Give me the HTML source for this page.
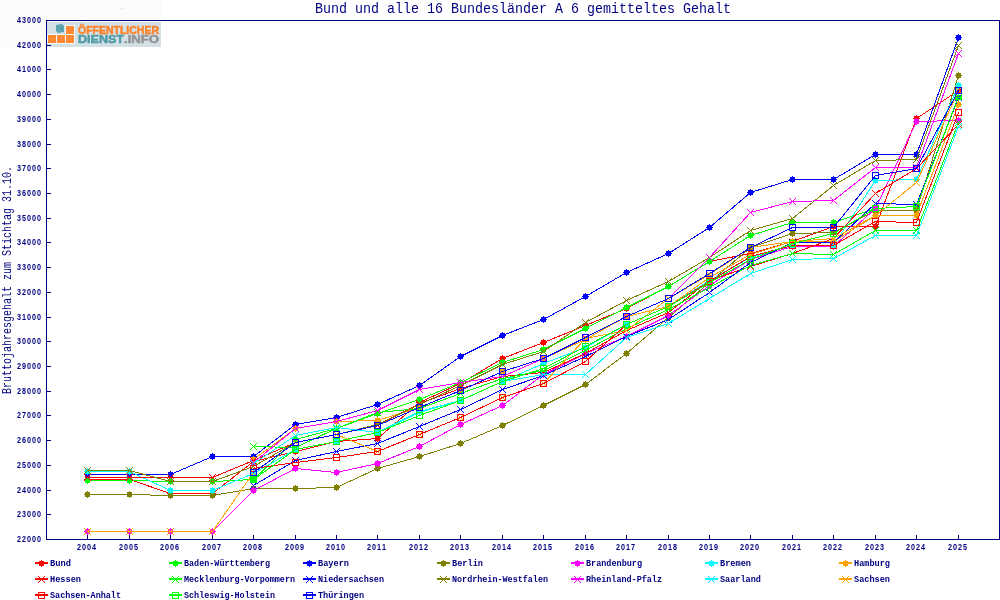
<!DOCTYPE html><html><head><meta charset="utf-8"><style>html,body{margin:0;padding:0;background:#fff;width:1000px;height:600px;overflow:hidden}svg{display:block;will-change:transform}text{font-family:"Liberation Mono",monospace;fill:#000080}</style></head><body>
<svg width="1000" height="600" viewBox="0 0 1000 600">
<rect x="0" y="0" width="1000" height="600" fill="#ffffff"/>
<rect x="0" y="0" width="161" height="47" fill="#fbfcf9"/>
<rect x="47" y="22" width="114" height="25" fill="#d3e0e6"/>
<rect x="47" y="34" width="28" height="10" fill="#f4f8fa"/><rect x="65" y="25" width="10" height="10" fill="#f4f8fa"/>
<rect x="121" y="8" width="2" height="1" fill="#e2e2e2"/>
<rect x="48" y="35" width="8" height="8" fill="#ff8833"/>
<rect x="57" y="35" width="8" height="8" fill="#ff8833"/>
<rect x="66" y="35" width="8" height="8" fill="#ff8833"/>
<rect x="66" y="26" width="8" height="8" fill="#ff8833"/>
<path d="M56 25 L62 24 L64 26 L64 32 L58 33 L56 31 Z" fill="#5ba3ad"/>
<g style="font-family:'Liberation Sans';font-weight:bold" font-size="10.5" stroke-width="0.45" lengthAdjust="spacingAndGlyphs">
<text x="78" y="34" textLength="81" lengthAdjust="spacingAndGlyphs" style="font-family:'Liberation Sans';font-weight:bold;fill:#ff8126;stroke:#ff8126">ÖFFENTLICHER</text>
<text x="78" y="43" textLength="46" lengthAdjust="spacingAndGlyphs" style="font-family:'Liberation Sans';font-weight:bold;fill:#4e9aa6;stroke:#4e9aa6">DIENST</text>
<text x="124" y="43" textLength="35" lengthAdjust="spacingAndGlyphs" style="font-family:'Liberation Sans';font-weight:bold;fill:#939393;stroke:#939393">.INFO</text>
</g>
<g shape-rendering="crispEdges" stroke="#000080" stroke-width="1" fill="none">
<rect x="46.5" y="20.5" width="953" height="519"/>
<line x1="46" y1="539.5" x2="51" y2="539.5"/>
<line x1="46" y1="514.5" x2="51" y2="514.5"/>
<line x1="46" y1="490.5" x2="51" y2="490.5"/>
<line x1="46" y1="465.5" x2="51" y2="465.5"/>
<line x1="46" y1="440.5" x2="51" y2="440.5"/>
<line x1="46" y1="415.5" x2="51" y2="415.5"/>
<line x1="46" y1="391.5" x2="51" y2="391.5"/>
<line x1="46" y1="366.5" x2="51" y2="366.5"/>
<line x1="46" y1="341.5" x2="51" y2="341.5"/>
<line x1="46" y1="317.5" x2="51" y2="317.5"/>
<line x1="46" y1="292.5" x2="51" y2="292.5"/>
<line x1="46" y1="267.5" x2="51" y2="267.5"/>
<line x1="46" y1="242.5" x2="51" y2="242.5"/>
<line x1="46" y1="218.5" x2="51" y2="218.5"/>
<line x1="46" y1="193.5" x2="51" y2="193.5"/>
<line x1="46" y1="168.5" x2="51" y2="168.5"/>
<line x1="46" y1="144.5" x2="51" y2="144.5"/>
<line x1="46" y1="119.5" x2="51" y2="119.5"/>
<line x1="46" y1="94.5" x2="51" y2="94.5"/>
<line x1="46" y1="69.5" x2="51" y2="69.5"/>
<line x1="46" y1="45.5" x2="51" y2="45.5"/>
<line x1="46" y1="20.5" x2="51" y2="20.5"/>
<line x1="87.5" y1="535" x2="87.5" y2="540"/>
<line x1="129.5" y1="535" x2="129.5" y2="540"/>
<line x1="170.5" y1="535" x2="170.5" y2="540"/>
<line x1="212.5" y1="535" x2="212.5" y2="540"/>
<line x1="253.5" y1="535" x2="253.5" y2="540"/>
<line x1="295.5" y1="535" x2="295.5" y2="540"/>
<line x1="336.5" y1="535" x2="336.5" y2="540"/>
<line x1="377.5" y1="535" x2="377.5" y2="540"/>
<line x1="419.5" y1="535" x2="419.5" y2="540"/>
<line x1="460.5" y1="535" x2="460.5" y2="540"/>
<line x1="502.5" y1="535" x2="502.5" y2="540"/>
<line x1="543.5" y1="535" x2="543.5" y2="540"/>
<line x1="585.5" y1="535" x2="585.5" y2="540"/>
<line x1="626.5" y1="535" x2="626.5" y2="540"/>
<line x1="668.5" y1="535" x2="668.5" y2="540"/>
<line x1="709.5" y1="535" x2="709.5" y2="540"/>
<line x1="750.5" y1="535" x2="750.5" y2="540"/>
<line x1="792.5" y1="535" x2="792.5" y2="540"/>
<line x1="833.5" y1="535" x2="833.5" y2="540"/>
<line x1="875.5" y1="535" x2="875.5" y2="540"/>
<line x1="916.5" y1="535" x2="916.5" y2="540"/>
<line x1="958.5" y1="535" x2="958.5" y2="540"/>
</g>
<text x="20.72 26.82 32.92 39.02 45.11" y="542" transform="scale(0.820,1)" font-size="8.8" style="font-family:'Liberation Sans';font-weight:bold">22000</text>
<text x="20.72 26.82 32.92 39.02 45.11" y="517" transform="scale(0.820,1)" font-size="8.8" style="font-family:'Liberation Sans';font-weight:bold">23000</text>
<text x="20.72 26.82 32.92 39.02 45.11" y="493" transform="scale(0.820,1)" font-size="8.8" style="font-family:'Liberation Sans';font-weight:bold">24000</text>
<text x="20.72 26.82 32.92 39.02 45.11" y="468" transform="scale(0.820,1)" font-size="8.8" style="font-family:'Liberation Sans';font-weight:bold">25000</text>
<text x="20.72 26.82 32.92 39.02 45.11" y="443" transform="scale(0.820,1)" font-size="8.8" style="font-family:'Liberation Sans';font-weight:bold">26000</text>
<text x="20.72 26.82 32.92 39.02 45.11" y="418" transform="scale(0.820,1)" font-size="8.8" style="font-family:'Liberation Sans';font-weight:bold">27000</text>
<text x="20.72 26.82 32.92 39.02 45.11" y="394" transform="scale(0.820,1)" font-size="8.8" style="font-family:'Liberation Sans';font-weight:bold">28000</text>
<text x="20.72 26.82 32.92 39.02 45.11" y="369" transform="scale(0.820,1)" font-size="8.8" style="font-family:'Liberation Sans';font-weight:bold">29000</text>
<text x="20.72 26.82 32.92 39.02 45.11" y="344" transform="scale(0.820,1)" font-size="8.8" style="font-family:'Liberation Sans';font-weight:bold">30000</text>
<text x="20.72 26.82 32.92 39.02 45.11" y="320" transform="scale(0.820,1)" font-size="8.8" style="font-family:'Liberation Sans';font-weight:bold">31000</text>
<text x="20.72 26.82 32.92 39.02 45.11" y="295" transform="scale(0.820,1)" font-size="8.8" style="font-family:'Liberation Sans';font-weight:bold">32000</text>
<text x="20.72 26.82 32.92 39.02 45.11" y="270" transform="scale(0.820,1)" font-size="8.8" style="font-family:'Liberation Sans';font-weight:bold">33000</text>
<text x="20.72 26.82 32.92 39.02 45.11" y="245" transform="scale(0.820,1)" font-size="8.8" style="font-family:'Liberation Sans';font-weight:bold">34000</text>
<text x="20.72 26.82 32.92 39.02 45.11" y="221" transform="scale(0.820,1)" font-size="8.8" style="font-family:'Liberation Sans';font-weight:bold">35000</text>
<text x="20.72 26.82 32.92 39.02 45.11" y="196" transform="scale(0.820,1)" font-size="8.8" style="font-family:'Liberation Sans';font-weight:bold">36000</text>
<text x="20.72 26.82 32.92 39.02 45.11" y="171" transform="scale(0.820,1)" font-size="8.8" style="font-family:'Liberation Sans';font-weight:bold">37000</text>
<text x="20.72 26.82 32.92 39.02 45.11" y="147" transform="scale(0.820,1)" font-size="8.8" style="font-family:'Liberation Sans';font-weight:bold">38000</text>
<text x="20.72 26.82 32.92 39.02 45.11" y="122" transform="scale(0.820,1)" font-size="8.8" style="font-family:'Liberation Sans';font-weight:bold">39000</text>
<text x="20.72 26.82 32.92 39.02 45.11" y="97" transform="scale(0.820,1)" font-size="8.8" style="font-family:'Liberation Sans';font-weight:bold">40000</text>
<text x="20.72 26.82 32.92 39.02 45.11" y="72" transform="scale(0.820,1)" font-size="8.8" style="font-family:'Liberation Sans';font-weight:bold">41000</text>
<text x="20.72 26.82 32.92 39.02 45.11" y="48" transform="scale(0.820,1)" font-size="8.8" style="font-family:'Liberation Sans';font-weight:bold">42000</text>
<text x="20.72 26.82 32.92 39.02 45.11" y="23" transform="scale(0.820,1)" font-size="8.8" style="font-family:'Liberation Sans';font-weight:bold">43000</text>
<text x="93.89 99.99 106.09 112.19" y="550" transform="scale(0.820,1)" font-size="8.8" style="font-family:'Liberation Sans';font-weight:bold">2004</text>
<text x="145.11 151.21 157.31 163.41" y="550" transform="scale(0.820,1)" font-size="8.8" style="font-family:'Liberation Sans';font-weight:bold">2005</text>
<text x="195.11 201.21 207.31 213.41" y="550" transform="scale(0.820,1)" font-size="8.8" style="font-family:'Liberation Sans';font-weight:bold">2006</text>
<text x="246.33 252.43 258.53 264.63" y="550" transform="scale(0.820,1)" font-size="8.8" style="font-family:'Liberation Sans';font-weight:bold">2007</text>
<text x="296.33 302.43 308.53 314.63" y="550" transform="scale(0.820,1)" font-size="8.8" style="font-family:'Liberation Sans';font-weight:bold">2008</text>
<text x="347.55 353.65 359.75 365.85" y="550" transform="scale(0.820,1)" font-size="8.8" style="font-family:'Liberation Sans';font-weight:bold">2009</text>
<text x="397.55 403.65 409.75 415.85" y="550" transform="scale(0.820,1)" font-size="8.8" style="font-family:'Liberation Sans';font-weight:bold">2010</text>
<text x="447.55 453.65 459.75 465.85" y="550" transform="scale(0.820,1)" font-size="8.8" style="font-family:'Liberation Sans';font-weight:bold">2011</text>
<text x="498.77 504.87 510.97 517.07" y="550" transform="scale(0.820,1)" font-size="8.8" style="font-family:'Liberation Sans';font-weight:bold">2012</text>
<text x="548.77 554.87 560.97 567.07" y="550" transform="scale(0.820,1)" font-size="8.8" style="font-family:'Liberation Sans';font-weight:bold">2013</text>
<text x="599.99 606.09 612.19 618.28" y="550" transform="scale(0.820,1)" font-size="8.8" style="font-family:'Liberation Sans';font-weight:bold">2014</text>
<text x="649.99 656.09 662.19 668.28" y="550" transform="scale(0.820,1)" font-size="8.8" style="font-family:'Liberation Sans';font-weight:bold">2015</text>
<text x="701.21 707.31 713.41 719.50" y="550" transform="scale(0.820,1)" font-size="8.8" style="font-family:'Liberation Sans';font-weight:bold">2016</text>
<text x="751.21 757.31 763.41 769.50" y="550" transform="scale(0.820,1)" font-size="8.8" style="font-family:'Liberation Sans';font-weight:bold">2017</text>
<text x="802.43 808.53 814.63 820.72" y="550" transform="scale(0.820,1)" font-size="8.8" style="font-family:'Liberation Sans';font-weight:bold">2018</text>
<text x="852.43 858.53 864.63 870.72" y="550" transform="scale(0.820,1)" font-size="8.8" style="font-family:'Liberation Sans';font-weight:bold">2019</text>
<text x="902.43 908.53 914.63 920.72" y="550" transform="scale(0.820,1)" font-size="8.8" style="font-family:'Liberation Sans';font-weight:bold">2020</text>
<text x="953.65 959.75 965.85 971.94" y="550" transform="scale(0.820,1)" font-size="8.8" style="font-family:'Liberation Sans';font-weight:bold">2021</text>
<text x="1003.65 1009.75 1015.85 1021.94" y="550" transform="scale(0.820,1)" font-size="8.8" style="font-family:'Liberation Sans';font-weight:bold">2022</text>
<text x="1054.87 1060.97 1067.07 1073.16" y="550" transform="scale(0.820,1)" font-size="8.8" style="font-family:'Liberation Sans';font-weight:bold">2023</text>
<text x="1104.87 1110.97 1117.07 1123.16" y="550" transform="scale(0.820,1)" font-size="8.8" style="font-family:'Liberation Sans';font-weight:bold">2024</text>
<text x="1156.09 1162.19 1168.28 1174.38" y="550" transform="scale(0.820,1)" font-size="8.8" style="font-family:'Liberation Sans';font-weight:bold">2025</text>
<text x="315" y="13" font-size="15" textLength="416" lengthAdjust="spacingAndGlyphs">Bund und alle 16 Bundesländer A 6 gemitteltes Gehalt</text>
<text transform="translate(11,394) rotate(-90)" x="0" y="0" font-size="12" textLength="228" lengthAdjust="spacingAndGlyphs">Bruttojahresgehalt zum Stichtag 31.10.</text>
<g shape-rendering="crispEdges">
<polyline fill="none" stroke="#ff0000" stroke-width="1" points="87.5,479.5 129.5,479.5 170.5,493.5 212.5,493.5 253.5,461.5 295.5,451.5 336.5,441.5 377.5,438.5 419.5,402.5 460.5,383.5 502.5,358.5 543.5,342.5 585.5,325.5 626.5,308.5 668.5,286.5 709.5,261.5 750.5,253.5 792.5,241.5 833.5,226.5 875.5,226.5 916.5,118.5 958.5,90.5"/>
<path d="M85 477h5v5h-5zM87 476h1v1h-1zM87 482h1v1h-1zM84 479h1v1h-1zM90 479h1v1h-1z" fill="#ff0000"/>
<path d="M127 477h5v5h-5zM129 476h1v1h-1zM129 482h1v1h-1zM126 479h1v1h-1zM132 479h1v1h-1z" fill="#ff0000"/>
<path d="M168 491h5v5h-5zM170 490h1v1h-1zM170 496h1v1h-1zM167 493h1v1h-1zM173 493h1v1h-1z" fill="#ff0000"/>
<path d="M210 491h5v5h-5zM212 490h1v1h-1zM212 496h1v1h-1zM209 493h1v1h-1zM215 493h1v1h-1z" fill="#ff0000"/>
<path d="M251 459h5v5h-5zM253 458h1v1h-1zM253 464h1v1h-1zM250 461h1v1h-1zM256 461h1v1h-1z" fill="#ff0000"/>
<path d="M293 449h5v5h-5zM295 448h1v1h-1zM295 454h1v1h-1zM292 451h1v1h-1zM298 451h1v1h-1z" fill="#ff0000"/>
<path d="M334 439h5v5h-5zM336 438h1v1h-1zM336 444h1v1h-1zM333 441h1v1h-1zM339 441h1v1h-1z" fill="#ff0000"/>
<path d="M375 436h5v5h-5zM377 435h1v1h-1zM377 441h1v1h-1zM374 438h1v1h-1zM380 438h1v1h-1z" fill="#ff0000"/>
<path d="M417 400h5v5h-5zM419 399h1v1h-1zM419 405h1v1h-1zM416 402h1v1h-1zM422 402h1v1h-1z" fill="#ff0000"/>
<path d="M458 381h5v5h-5zM460 380h1v1h-1zM460 386h1v1h-1zM457 383h1v1h-1zM463 383h1v1h-1z" fill="#ff0000"/>
<path d="M500 356h5v5h-5zM502 355h1v1h-1zM502 361h1v1h-1zM499 358h1v1h-1zM505 358h1v1h-1z" fill="#ff0000"/>
<path d="M541 340h5v5h-5zM543 339h1v1h-1zM543 345h1v1h-1zM540 342h1v1h-1zM546 342h1v1h-1z" fill="#ff0000"/>
<path d="M583 323h5v5h-5zM585 322h1v1h-1zM585 328h1v1h-1zM582 325h1v1h-1zM588 325h1v1h-1z" fill="#ff0000"/>
<path d="M624 306h5v5h-5zM626 305h1v1h-1zM626 311h1v1h-1zM623 308h1v1h-1zM629 308h1v1h-1z" fill="#ff0000"/>
<path d="M666 284h5v5h-5zM668 283h1v1h-1zM668 289h1v1h-1zM665 286h1v1h-1zM671 286h1v1h-1z" fill="#ff0000"/>
<path d="M707 259h5v5h-5zM709 258h1v1h-1zM709 264h1v1h-1zM706 261h1v1h-1zM712 261h1v1h-1z" fill="#ff0000"/>
<path d="M748 251h5v5h-5zM750 250h1v1h-1zM750 256h1v1h-1zM747 253h1v1h-1zM753 253h1v1h-1z" fill="#ff0000"/>
<path d="M790 239h5v5h-5zM792 238h1v1h-1zM792 244h1v1h-1zM789 241h1v1h-1zM795 241h1v1h-1z" fill="#ff0000"/>
<path d="M831 224h5v5h-5zM833 223h1v1h-1zM833 229h1v1h-1zM830 226h1v1h-1zM836 226h1v1h-1z" fill="#ff0000"/>
<path d="M873 224h5v5h-5zM875 223h1v1h-1zM875 229h1v1h-1zM872 226h1v1h-1zM878 226h1v1h-1z" fill="#ff0000"/>
<path d="M914 116h5v5h-5zM916 115h1v1h-1zM916 121h1v1h-1zM913 118h1v1h-1zM919 118h1v1h-1z" fill="#ff0000"/>
<path d="M956 88h5v5h-5zM958 87h1v1h-1zM958 93h1v1h-1zM955 90h1v1h-1zM961 90h1v1h-1z" fill="#ff0000"/>
<polyline fill="none" stroke="#00ff00" stroke-width="1" points="87.5,480.5 129.5,480.5 170.5,481.5 212.5,481.5 253.5,479.5 295.5,439.5 336.5,428.5 377.5,413.5 419.5,399.5 460.5,382.5 502.5,362.5 543.5,349.5 585.5,328.5 626.5,307.5 668.5,286.5 709.5,261.5 750.5,235.5 792.5,222.5 833.5,222.5 875.5,208.5 916.5,206.5 958.5,97.5"/>
<path d="M85 478h5v5h-5zM87 477h1v1h-1zM87 483h1v1h-1zM84 480h1v1h-1zM90 480h1v1h-1z" fill="#00ff00"/>
<path d="M127 478h5v5h-5zM129 477h1v1h-1zM129 483h1v1h-1zM126 480h1v1h-1zM132 480h1v1h-1z" fill="#00ff00"/>
<path d="M168 479h5v5h-5zM170 478h1v1h-1zM170 484h1v1h-1zM167 481h1v1h-1zM173 481h1v1h-1z" fill="#00ff00"/>
<path d="M210 479h5v5h-5zM212 478h1v1h-1zM212 484h1v1h-1zM209 481h1v1h-1zM215 481h1v1h-1z" fill="#00ff00"/>
<path d="M251 477h5v5h-5zM253 476h1v1h-1zM253 482h1v1h-1zM250 479h1v1h-1zM256 479h1v1h-1z" fill="#00ff00"/>
<path d="M293 437h5v5h-5zM295 436h1v1h-1zM295 442h1v1h-1zM292 439h1v1h-1zM298 439h1v1h-1z" fill="#00ff00"/>
<path d="M334 426h5v5h-5zM336 425h1v1h-1zM336 431h1v1h-1zM333 428h1v1h-1zM339 428h1v1h-1z" fill="#00ff00"/>
<path d="M375 411h5v5h-5zM377 410h1v1h-1zM377 416h1v1h-1zM374 413h1v1h-1zM380 413h1v1h-1z" fill="#00ff00"/>
<path d="M417 397h5v5h-5zM419 396h1v1h-1zM419 402h1v1h-1zM416 399h1v1h-1zM422 399h1v1h-1z" fill="#00ff00"/>
<path d="M458 380h5v5h-5zM460 379h1v1h-1zM460 385h1v1h-1zM457 382h1v1h-1zM463 382h1v1h-1z" fill="#00ff00"/>
<path d="M500 360h5v5h-5zM502 359h1v1h-1zM502 365h1v1h-1zM499 362h1v1h-1zM505 362h1v1h-1z" fill="#00ff00"/>
<path d="M541 347h5v5h-5zM543 346h1v1h-1zM543 352h1v1h-1zM540 349h1v1h-1zM546 349h1v1h-1z" fill="#00ff00"/>
<path d="M583 326h5v5h-5zM585 325h1v1h-1zM585 331h1v1h-1zM582 328h1v1h-1zM588 328h1v1h-1z" fill="#00ff00"/>
<path d="M624 305h5v5h-5zM626 304h1v1h-1zM626 310h1v1h-1zM623 307h1v1h-1zM629 307h1v1h-1z" fill="#00ff00"/>
<path d="M666 284h5v5h-5zM668 283h1v1h-1zM668 289h1v1h-1zM665 286h1v1h-1zM671 286h1v1h-1z" fill="#00ff00"/>
<path d="M707 259h5v5h-5zM709 258h1v1h-1zM709 264h1v1h-1zM706 261h1v1h-1zM712 261h1v1h-1z" fill="#00ff00"/>
<path d="M748 233h5v5h-5zM750 232h1v1h-1zM750 238h1v1h-1zM747 235h1v1h-1zM753 235h1v1h-1z" fill="#00ff00"/>
<path d="M790 220h5v5h-5zM792 219h1v1h-1zM792 225h1v1h-1zM789 222h1v1h-1zM795 222h1v1h-1z" fill="#00ff00"/>
<path d="M831 220h5v5h-5zM833 219h1v1h-1zM833 225h1v1h-1zM830 222h1v1h-1zM836 222h1v1h-1z" fill="#00ff00"/>
<path d="M873 206h5v5h-5zM875 205h1v1h-1zM875 211h1v1h-1zM872 208h1v1h-1zM878 208h1v1h-1z" fill="#00ff00"/>
<path d="M914 204h5v5h-5zM916 203h1v1h-1zM916 209h1v1h-1zM913 206h1v1h-1zM919 206h1v1h-1z" fill="#00ff00"/>
<path d="M956 95h5v5h-5zM958 94h1v1h-1zM958 100h1v1h-1zM955 97h1v1h-1zM961 97h1v1h-1z" fill="#00ff00"/>
<polyline fill="none" stroke="#0000ff" stroke-width="1" points="87.5,474.5 129.5,474.5 170.5,474.5 212.5,456.5 253.5,456.5 295.5,424.5 336.5,417.5 377.5,404.5 419.5,385.5 460.5,356.5 502.5,335.5 543.5,319.5 585.5,296.5 626.5,272.5 668.5,253.5 709.5,227.5 750.5,192.5 792.5,179.5 833.5,179.5 875.5,154.5 916.5,154.5 958.5,37.5"/>
<path d="M85 472h5v5h-5zM87 471h1v1h-1zM87 477h1v1h-1zM84 474h1v1h-1zM90 474h1v1h-1z" fill="#0000ff"/>
<path d="M127 472h5v5h-5zM129 471h1v1h-1zM129 477h1v1h-1zM126 474h1v1h-1zM132 474h1v1h-1z" fill="#0000ff"/>
<path d="M168 472h5v5h-5zM170 471h1v1h-1zM170 477h1v1h-1zM167 474h1v1h-1zM173 474h1v1h-1z" fill="#0000ff"/>
<path d="M210 454h5v5h-5zM212 453h1v1h-1zM212 459h1v1h-1zM209 456h1v1h-1zM215 456h1v1h-1z" fill="#0000ff"/>
<path d="M251 454h5v5h-5zM253 453h1v1h-1zM253 459h1v1h-1zM250 456h1v1h-1zM256 456h1v1h-1z" fill="#0000ff"/>
<path d="M293 422h5v5h-5zM295 421h1v1h-1zM295 427h1v1h-1zM292 424h1v1h-1zM298 424h1v1h-1z" fill="#0000ff"/>
<path d="M334 415h5v5h-5zM336 414h1v1h-1zM336 420h1v1h-1zM333 417h1v1h-1zM339 417h1v1h-1z" fill="#0000ff"/>
<path d="M375 402h5v5h-5zM377 401h1v1h-1zM377 407h1v1h-1zM374 404h1v1h-1zM380 404h1v1h-1z" fill="#0000ff"/>
<path d="M417 383h5v5h-5zM419 382h1v1h-1zM419 388h1v1h-1zM416 385h1v1h-1zM422 385h1v1h-1z" fill="#0000ff"/>
<path d="M458 354h5v5h-5zM460 353h1v1h-1zM460 359h1v1h-1zM457 356h1v1h-1zM463 356h1v1h-1z" fill="#0000ff"/>
<path d="M500 333h5v5h-5zM502 332h1v1h-1zM502 338h1v1h-1zM499 335h1v1h-1zM505 335h1v1h-1z" fill="#0000ff"/>
<path d="M541 317h5v5h-5zM543 316h1v1h-1zM543 322h1v1h-1zM540 319h1v1h-1zM546 319h1v1h-1z" fill="#0000ff"/>
<path d="M583 294h5v5h-5zM585 293h1v1h-1zM585 299h1v1h-1zM582 296h1v1h-1zM588 296h1v1h-1z" fill="#0000ff"/>
<path d="M624 270h5v5h-5zM626 269h1v1h-1zM626 275h1v1h-1zM623 272h1v1h-1zM629 272h1v1h-1z" fill="#0000ff"/>
<path d="M666 251h5v5h-5zM668 250h1v1h-1zM668 256h1v1h-1zM665 253h1v1h-1zM671 253h1v1h-1z" fill="#0000ff"/>
<path d="M707 225h5v5h-5zM709 224h1v1h-1zM709 230h1v1h-1zM706 227h1v1h-1zM712 227h1v1h-1z" fill="#0000ff"/>
<path d="M748 190h5v5h-5zM750 189h1v1h-1zM750 195h1v1h-1zM747 192h1v1h-1zM753 192h1v1h-1z" fill="#0000ff"/>
<path d="M790 177h5v5h-5zM792 176h1v1h-1zM792 182h1v1h-1zM789 179h1v1h-1zM795 179h1v1h-1z" fill="#0000ff"/>
<path d="M831 177h5v5h-5zM833 176h1v1h-1zM833 182h1v1h-1zM830 179h1v1h-1zM836 179h1v1h-1z" fill="#0000ff"/>
<path d="M873 152h5v5h-5zM875 151h1v1h-1zM875 157h1v1h-1zM872 154h1v1h-1zM878 154h1v1h-1z" fill="#0000ff"/>
<path d="M914 152h5v5h-5zM916 151h1v1h-1zM916 157h1v1h-1zM913 154h1v1h-1zM919 154h1v1h-1z" fill="#0000ff"/>
<path d="M956 35h5v5h-5zM958 34h1v1h-1zM958 40h1v1h-1zM955 37h1v1h-1zM961 37h1v1h-1z" fill="#0000ff"/>
<polyline fill="none" stroke="#808000" stroke-width="1" points="87.5,494.5 129.5,494.5 170.5,495.5 212.5,495.5 253.5,488.5 295.5,488.5 336.5,487.5 377.5,468.5 419.5,456.5 460.5,443.5 502.5,425.5 543.5,405.5 585.5,384.5 626.5,353.5 668.5,317.5 709.5,282.5 750.5,247.5 792.5,233.5 833.5,232.5 875.5,210.5 916.5,210.5 958.5,75.5"/>
<path d="M85 492h5v5h-5zM87 491h1v1h-1zM87 497h1v1h-1zM84 494h1v1h-1zM90 494h1v1h-1z" fill="#808000"/>
<path d="M127 492h5v5h-5zM129 491h1v1h-1zM129 497h1v1h-1zM126 494h1v1h-1zM132 494h1v1h-1z" fill="#808000"/>
<path d="M168 493h5v5h-5zM170 492h1v1h-1zM170 498h1v1h-1zM167 495h1v1h-1zM173 495h1v1h-1z" fill="#808000"/>
<path d="M210 493h5v5h-5zM212 492h1v1h-1zM212 498h1v1h-1zM209 495h1v1h-1zM215 495h1v1h-1z" fill="#808000"/>
<path d="M251 486h5v5h-5zM253 485h1v1h-1zM253 491h1v1h-1zM250 488h1v1h-1zM256 488h1v1h-1z" fill="#808000"/>
<path d="M293 486h5v5h-5zM295 485h1v1h-1zM295 491h1v1h-1zM292 488h1v1h-1zM298 488h1v1h-1z" fill="#808000"/>
<path d="M334 485h5v5h-5zM336 484h1v1h-1zM336 490h1v1h-1zM333 487h1v1h-1zM339 487h1v1h-1z" fill="#808000"/>
<path d="M375 466h5v5h-5zM377 465h1v1h-1zM377 471h1v1h-1zM374 468h1v1h-1zM380 468h1v1h-1z" fill="#808000"/>
<path d="M417 454h5v5h-5zM419 453h1v1h-1zM419 459h1v1h-1zM416 456h1v1h-1zM422 456h1v1h-1z" fill="#808000"/>
<path d="M458 441h5v5h-5zM460 440h1v1h-1zM460 446h1v1h-1zM457 443h1v1h-1zM463 443h1v1h-1z" fill="#808000"/>
<path d="M500 423h5v5h-5zM502 422h1v1h-1zM502 428h1v1h-1zM499 425h1v1h-1zM505 425h1v1h-1z" fill="#808000"/>
<path d="M541 403h5v5h-5zM543 402h1v1h-1zM543 408h1v1h-1zM540 405h1v1h-1zM546 405h1v1h-1z" fill="#808000"/>
<path d="M583 382h5v5h-5zM585 381h1v1h-1zM585 387h1v1h-1zM582 384h1v1h-1zM588 384h1v1h-1z" fill="#808000"/>
<path d="M624 351h5v5h-5zM626 350h1v1h-1zM626 356h1v1h-1zM623 353h1v1h-1zM629 353h1v1h-1z" fill="#808000"/>
<path d="M666 315h5v5h-5zM668 314h1v1h-1zM668 320h1v1h-1zM665 317h1v1h-1zM671 317h1v1h-1z" fill="#808000"/>
<path d="M707 280h5v5h-5zM709 279h1v1h-1zM709 285h1v1h-1zM706 282h1v1h-1zM712 282h1v1h-1z" fill="#808000"/>
<path d="M748 245h5v5h-5zM750 244h1v1h-1zM750 250h1v1h-1zM747 247h1v1h-1zM753 247h1v1h-1z" fill="#808000"/>
<path d="M790 231h5v5h-5zM792 230h1v1h-1zM792 236h1v1h-1zM789 233h1v1h-1zM795 233h1v1h-1z" fill="#808000"/>
<path d="M831 230h5v5h-5zM833 229h1v1h-1zM833 235h1v1h-1zM830 232h1v1h-1zM836 232h1v1h-1z" fill="#808000"/>
<path d="M873 208h5v5h-5zM875 207h1v1h-1zM875 213h1v1h-1zM872 210h1v1h-1zM878 210h1v1h-1z" fill="#808000"/>
<path d="M914 208h5v5h-5zM916 207h1v1h-1zM916 213h1v1h-1zM913 210h1v1h-1zM919 210h1v1h-1z" fill="#808000"/>
<path d="M956 73h5v5h-5zM958 72h1v1h-1zM958 78h1v1h-1zM955 75h1v1h-1zM961 75h1v1h-1z" fill="#808000"/>
<polyline fill="none" stroke="#ff00ff" stroke-width="1" points="87.5,531.5 129.5,531.5 170.5,531.5 212.5,531.5 253.5,490.5 295.5,468.5 336.5,472.5 377.5,463.5 419.5,446.5 460.5,424.5 502.5,405.5 543.5,374.5 585.5,353.5 626.5,336.5 668.5,315.5 709.5,285.5 750.5,259.5 792.5,246.5 833.5,246.5 875.5,208.5 916.5,121.5 958.5,120.5"/>
<path d="M85 529h5v5h-5zM87 528h1v1h-1zM87 534h1v1h-1zM84 531h1v1h-1zM90 531h1v1h-1z" fill="#ff00ff"/>
<path d="M127 529h5v5h-5zM129 528h1v1h-1zM129 534h1v1h-1zM126 531h1v1h-1zM132 531h1v1h-1z" fill="#ff00ff"/>
<path d="M168 529h5v5h-5zM170 528h1v1h-1zM170 534h1v1h-1zM167 531h1v1h-1zM173 531h1v1h-1z" fill="#ff00ff"/>
<path d="M210 529h5v5h-5zM212 528h1v1h-1zM212 534h1v1h-1zM209 531h1v1h-1zM215 531h1v1h-1z" fill="#ff00ff"/>
<path d="M251 488h5v5h-5zM253 487h1v1h-1zM253 493h1v1h-1zM250 490h1v1h-1zM256 490h1v1h-1z" fill="#ff00ff"/>
<path d="M293 466h5v5h-5zM295 465h1v1h-1zM295 471h1v1h-1zM292 468h1v1h-1zM298 468h1v1h-1z" fill="#ff00ff"/>
<path d="M334 470h5v5h-5zM336 469h1v1h-1zM336 475h1v1h-1zM333 472h1v1h-1zM339 472h1v1h-1z" fill="#ff00ff"/>
<path d="M375 461h5v5h-5zM377 460h1v1h-1zM377 466h1v1h-1zM374 463h1v1h-1zM380 463h1v1h-1z" fill="#ff00ff"/>
<path d="M417 444h5v5h-5zM419 443h1v1h-1zM419 449h1v1h-1zM416 446h1v1h-1zM422 446h1v1h-1z" fill="#ff00ff"/>
<path d="M458 422h5v5h-5zM460 421h1v1h-1zM460 427h1v1h-1zM457 424h1v1h-1zM463 424h1v1h-1z" fill="#ff00ff"/>
<path d="M500 403h5v5h-5zM502 402h1v1h-1zM502 408h1v1h-1zM499 405h1v1h-1zM505 405h1v1h-1z" fill="#ff00ff"/>
<path d="M541 372h5v5h-5zM543 371h1v1h-1zM543 377h1v1h-1zM540 374h1v1h-1zM546 374h1v1h-1z" fill="#ff00ff"/>
<path d="M583 351h5v5h-5zM585 350h1v1h-1zM585 356h1v1h-1zM582 353h1v1h-1zM588 353h1v1h-1z" fill="#ff00ff"/>
<path d="M624 334h5v5h-5zM626 333h1v1h-1zM626 339h1v1h-1zM623 336h1v1h-1zM629 336h1v1h-1z" fill="#ff00ff"/>
<path d="M666 313h5v5h-5zM668 312h1v1h-1zM668 318h1v1h-1zM665 315h1v1h-1zM671 315h1v1h-1z" fill="#ff00ff"/>
<path d="M707 283h5v5h-5zM709 282h1v1h-1zM709 288h1v1h-1zM706 285h1v1h-1zM712 285h1v1h-1z" fill="#ff00ff"/>
<path d="M748 257h5v5h-5zM750 256h1v1h-1zM750 262h1v1h-1zM747 259h1v1h-1zM753 259h1v1h-1z" fill="#ff00ff"/>
<path d="M790 244h5v5h-5zM792 243h1v1h-1zM792 249h1v1h-1zM789 246h1v1h-1zM795 246h1v1h-1z" fill="#ff00ff"/>
<path d="M831 244h5v5h-5zM833 243h1v1h-1zM833 249h1v1h-1zM830 246h1v1h-1zM836 246h1v1h-1z" fill="#ff00ff"/>
<path d="M873 206h5v5h-5zM875 205h1v1h-1zM875 211h1v1h-1zM872 208h1v1h-1zM878 208h1v1h-1z" fill="#ff00ff"/>
<path d="M914 119h5v5h-5zM916 118h1v1h-1zM916 124h1v1h-1zM913 121h1v1h-1zM919 121h1v1h-1z" fill="#ff00ff"/>
<path d="M956 118h5v5h-5zM958 117h1v1h-1zM958 123h1v1h-1zM955 120h1v1h-1zM961 120h1v1h-1z" fill="#ff00ff"/>
<polyline fill="none" stroke="#00ffff" stroke-width="1" points="87.5,471.5 129.5,471.5 170.5,490.5 212.5,490.5 253.5,473.5 295.5,449.5 336.5,441.5 377.5,432.5 419.5,411.5 460.5,400.5 502.5,381.5 543.5,363.5 585.5,347.5 626.5,324.5 668.5,306.5 709.5,280.5 750.5,257.5 792.5,245.5 833.5,245.5 875.5,180.5 916.5,179.5 958.5,85.5"/>
<path d="M85 469h5v5h-5zM87 468h1v1h-1zM87 474h1v1h-1zM84 471h1v1h-1zM90 471h1v1h-1z" fill="#00ffff"/>
<path d="M127 469h5v5h-5zM129 468h1v1h-1zM129 474h1v1h-1zM126 471h1v1h-1zM132 471h1v1h-1z" fill="#00ffff"/>
<path d="M168 488h5v5h-5zM170 487h1v1h-1zM170 493h1v1h-1zM167 490h1v1h-1zM173 490h1v1h-1z" fill="#00ffff"/>
<path d="M210 488h5v5h-5zM212 487h1v1h-1zM212 493h1v1h-1zM209 490h1v1h-1zM215 490h1v1h-1z" fill="#00ffff"/>
<path d="M251 471h5v5h-5zM253 470h1v1h-1zM253 476h1v1h-1zM250 473h1v1h-1zM256 473h1v1h-1z" fill="#00ffff"/>
<path d="M293 447h5v5h-5zM295 446h1v1h-1zM295 452h1v1h-1zM292 449h1v1h-1zM298 449h1v1h-1z" fill="#00ffff"/>
<path d="M334 439h5v5h-5zM336 438h1v1h-1zM336 444h1v1h-1zM333 441h1v1h-1zM339 441h1v1h-1z" fill="#00ffff"/>
<path d="M375 430h5v5h-5zM377 429h1v1h-1zM377 435h1v1h-1zM374 432h1v1h-1zM380 432h1v1h-1z" fill="#00ffff"/>
<path d="M417 409h5v5h-5zM419 408h1v1h-1zM419 414h1v1h-1zM416 411h1v1h-1zM422 411h1v1h-1z" fill="#00ffff"/>
<path d="M458 398h5v5h-5zM460 397h1v1h-1zM460 403h1v1h-1zM457 400h1v1h-1zM463 400h1v1h-1z" fill="#00ffff"/>
<path d="M500 379h5v5h-5zM502 378h1v1h-1zM502 384h1v1h-1zM499 381h1v1h-1zM505 381h1v1h-1z" fill="#00ffff"/>
<path d="M541 361h5v5h-5zM543 360h1v1h-1zM543 366h1v1h-1zM540 363h1v1h-1zM546 363h1v1h-1z" fill="#00ffff"/>
<path d="M583 345h5v5h-5zM585 344h1v1h-1zM585 350h1v1h-1zM582 347h1v1h-1zM588 347h1v1h-1z" fill="#00ffff"/>
<path d="M624 322h5v5h-5zM626 321h1v1h-1zM626 327h1v1h-1zM623 324h1v1h-1zM629 324h1v1h-1z" fill="#00ffff"/>
<path d="M666 304h5v5h-5zM668 303h1v1h-1zM668 309h1v1h-1zM665 306h1v1h-1zM671 306h1v1h-1z" fill="#00ffff"/>
<path d="M707 278h5v5h-5zM709 277h1v1h-1zM709 283h1v1h-1zM706 280h1v1h-1zM712 280h1v1h-1z" fill="#00ffff"/>
<path d="M748 255h5v5h-5zM750 254h1v1h-1zM750 260h1v1h-1zM747 257h1v1h-1zM753 257h1v1h-1z" fill="#00ffff"/>
<path d="M790 243h5v5h-5zM792 242h1v1h-1zM792 248h1v1h-1zM789 245h1v1h-1zM795 245h1v1h-1z" fill="#00ffff"/>
<path d="M831 243h5v5h-5zM833 242h1v1h-1zM833 248h1v1h-1zM830 245h1v1h-1zM836 245h1v1h-1z" fill="#00ffff"/>
<path d="M873 178h5v5h-5zM875 177h1v1h-1zM875 183h1v1h-1zM872 180h1v1h-1zM878 180h1v1h-1z" fill="#00ffff"/>
<path d="M914 177h5v5h-5zM916 176h1v1h-1zM916 182h1v1h-1zM913 179h1v1h-1zM919 179h1v1h-1z" fill="#00ffff"/>
<path d="M956 83h5v5h-5zM958 82h1v1h-1zM958 88h1v1h-1zM955 85h1v1h-1zM961 85h1v1h-1z" fill="#00ffff"/>
<polyline fill="none" stroke="#ffa500" stroke-width="1" points="253.5,459.5 295.5,428.5 336.5,421.5 377.5,420.5 419.5,407.5 460.5,390.5 502.5,371.5 543.5,358.5 585.5,339.5 626.5,316.5 668.5,306.5 709.5,277.5 750.5,254.5 792.5,241.5 833.5,241.5 875.5,215.5 916.5,215.5 958.5,104.5"/>
<path d="M251 457h5v5h-5zM253 456h1v1h-1zM253 462h1v1h-1zM250 459h1v1h-1zM256 459h1v1h-1z" fill="#ffa500"/>
<path d="M293 426h5v5h-5zM295 425h1v1h-1zM295 431h1v1h-1zM292 428h1v1h-1zM298 428h1v1h-1z" fill="#ffa500"/>
<path d="M334 419h5v5h-5zM336 418h1v1h-1zM336 424h1v1h-1zM333 421h1v1h-1zM339 421h1v1h-1z" fill="#ffa500"/>
<path d="M375 418h5v5h-5zM377 417h1v1h-1zM377 423h1v1h-1zM374 420h1v1h-1zM380 420h1v1h-1z" fill="#ffa500"/>
<path d="M417 405h5v5h-5zM419 404h1v1h-1zM419 410h1v1h-1zM416 407h1v1h-1zM422 407h1v1h-1z" fill="#ffa500"/>
<path d="M458 388h5v5h-5zM460 387h1v1h-1zM460 393h1v1h-1zM457 390h1v1h-1zM463 390h1v1h-1z" fill="#ffa500"/>
<path d="M500 369h5v5h-5zM502 368h1v1h-1zM502 374h1v1h-1zM499 371h1v1h-1zM505 371h1v1h-1z" fill="#ffa500"/>
<path d="M541 356h5v5h-5zM543 355h1v1h-1zM543 361h1v1h-1zM540 358h1v1h-1zM546 358h1v1h-1z" fill="#ffa500"/>
<path d="M583 337h5v5h-5zM585 336h1v1h-1zM585 342h1v1h-1zM582 339h1v1h-1zM588 339h1v1h-1z" fill="#ffa500"/>
<path d="M624 314h5v5h-5zM626 313h1v1h-1zM626 319h1v1h-1zM623 316h1v1h-1zM629 316h1v1h-1z" fill="#ffa500"/>
<path d="M666 304h5v5h-5zM668 303h1v1h-1zM668 309h1v1h-1zM665 306h1v1h-1zM671 306h1v1h-1z" fill="#ffa500"/>
<path d="M707 275h5v5h-5zM709 274h1v1h-1zM709 280h1v1h-1zM706 277h1v1h-1zM712 277h1v1h-1z" fill="#ffa500"/>
<path d="M748 252h5v5h-5zM750 251h1v1h-1zM750 257h1v1h-1zM747 254h1v1h-1zM753 254h1v1h-1z" fill="#ffa500"/>
<path d="M790 239h5v5h-5zM792 238h1v1h-1zM792 244h1v1h-1zM789 241h1v1h-1zM795 241h1v1h-1z" fill="#ffa500"/>
<path d="M831 239h5v5h-5zM833 238h1v1h-1zM833 244h1v1h-1zM830 241h1v1h-1zM836 241h1v1h-1z" fill="#ffa500"/>
<path d="M873 213h5v5h-5zM875 212h1v1h-1zM875 218h1v1h-1zM872 215h1v1h-1zM878 215h1v1h-1z" fill="#ffa500"/>
<path d="M914 213h5v5h-5zM916 212h1v1h-1zM916 218h1v1h-1zM913 215h1v1h-1zM919 215h1v1h-1z" fill="#ffa500"/>
<path d="M956 102h5v5h-5zM958 101h1v1h-1zM958 107h1v1h-1zM955 104h1v1h-1zM961 104h1v1h-1z" fill="#ffa500"/>
<polyline fill="none" stroke="#ff0000" stroke-width="1" points="87.5,477.5 129.5,477.5 170.5,477.5 212.5,477.5 253.5,460.5 295.5,442.5 336.5,434.5 377.5,425.5 419.5,403.5 460.5,388.5 502.5,376.5 543.5,372.5 585.5,353.5 626.5,330.5 668.5,312.5 709.5,280.5 750.5,266.5 792.5,253.5 833.5,238.5 875.5,193.5 916.5,168.5 958.5,124.5"/>
<path d="M84 474h1v1h-1zM84 480h1v1h-1zM85 475h1v1h-1zM85 479h1v1h-1zM86 476h1v1h-1zM86 478h1v1h-1zM87 477h1v1h-1zM88 478h1v1h-1zM88 476h1v1h-1zM89 479h1v1h-1zM89 475h1v1h-1zM90 480h1v1h-1zM90 474h1v1h-1z" fill="#ff0000"/>
<path d="M126 474h1v1h-1zM126 480h1v1h-1zM127 475h1v1h-1zM127 479h1v1h-1zM128 476h1v1h-1zM128 478h1v1h-1zM129 477h1v1h-1zM130 478h1v1h-1zM130 476h1v1h-1zM131 479h1v1h-1zM131 475h1v1h-1zM132 480h1v1h-1zM132 474h1v1h-1z" fill="#ff0000"/>
<path d="M167 474h1v1h-1zM167 480h1v1h-1zM168 475h1v1h-1zM168 479h1v1h-1zM169 476h1v1h-1zM169 478h1v1h-1zM170 477h1v1h-1zM171 478h1v1h-1zM171 476h1v1h-1zM172 479h1v1h-1zM172 475h1v1h-1zM173 480h1v1h-1zM173 474h1v1h-1z" fill="#ff0000"/>
<path d="M209 474h1v1h-1zM209 480h1v1h-1zM210 475h1v1h-1zM210 479h1v1h-1zM211 476h1v1h-1zM211 478h1v1h-1zM212 477h1v1h-1zM213 478h1v1h-1zM213 476h1v1h-1zM214 479h1v1h-1zM214 475h1v1h-1zM215 480h1v1h-1zM215 474h1v1h-1z" fill="#ff0000"/>
<path d="M250 457h1v1h-1zM250 463h1v1h-1zM251 458h1v1h-1zM251 462h1v1h-1zM252 459h1v1h-1zM252 461h1v1h-1zM253 460h1v1h-1zM254 461h1v1h-1zM254 459h1v1h-1zM255 462h1v1h-1zM255 458h1v1h-1zM256 463h1v1h-1zM256 457h1v1h-1z" fill="#ff0000"/>
<path d="M292 439h1v1h-1zM292 445h1v1h-1zM293 440h1v1h-1zM293 444h1v1h-1zM294 441h1v1h-1zM294 443h1v1h-1zM295 442h1v1h-1zM296 443h1v1h-1zM296 441h1v1h-1zM297 444h1v1h-1zM297 440h1v1h-1zM298 445h1v1h-1zM298 439h1v1h-1z" fill="#ff0000"/>
<path d="M333 431h1v1h-1zM333 437h1v1h-1zM334 432h1v1h-1zM334 436h1v1h-1zM335 433h1v1h-1zM335 435h1v1h-1zM336 434h1v1h-1zM337 435h1v1h-1zM337 433h1v1h-1zM338 436h1v1h-1zM338 432h1v1h-1zM339 437h1v1h-1zM339 431h1v1h-1z" fill="#ff0000"/>
<path d="M374 422h1v1h-1zM374 428h1v1h-1zM375 423h1v1h-1zM375 427h1v1h-1zM376 424h1v1h-1zM376 426h1v1h-1zM377 425h1v1h-1zM378 426h1v1h-1zM378 424h1v1h-1zM379 427h1v1h-1zM379 423h1v1h-1zM380 428h1v1h-1zM380 422h1v1h-1z" fill="#ff0000"/>
<path d="M416 400h1v1h-1zM416 406h1v1h-1zM417 401h1v1h-1zM417 405h1v1h-1zM418 402h1v1h-1zM418 404h1v1h-1zM419 403h1v1h-1zM420 404h1v1h-1zM420 402h1v1h-1zM421 405h1v1h-1zM421 401h1v1h-1zM422 406h1v1h-1zM422 400h1v1h-1z" fill="#ff0000"/>
<path d="M457 385h1v1h-1zM457 391h1v1h-1zM458 386h1v1h-1zM458 390h1v1h-1zM459 387h1v1h-1zM459 389h1v1h-1zM460 388h1v1h-1zM461 389h1v1h-1zM461 387h1v1h-1zM462 390h1v1h-1zM462 386h1v1h-1zM463 391h1v1h-1zM463 385h1v1h-1z" fill="#ff0000"/>
<path d="M499 373h1v1h-1zM499 379h1v1h-1zM500 374h1v1h-1zM500 378h1v1h-1zM501 375h1v1h-1zM501 377h1v1h-1zM502 376h1v1h-1zM503 377h1v1h-1zM503 375h1v1h-1zM504 378h1v1h-1zM504 374h1v1h-1zM505 379h1v1h-1zM505 373h1v1h-1z" fill="#ff0000"/>
<path d="M540 369h1v1h-1zM540 375h1v1h-1zM541 370h1v1h-1zM541 374h1v1h-1zM542 371h1v1h-1zM542 373h1v1h-1zM543 372h1v1h-1zM544 373h1v1h-1zM544 371h1v1h-1zM545 374h1v1h-1zM545 370h1v1h-1zM546 375h1v1h-1zM546 369h1v1h-1z" fill="#ff0000"/>
<path d="M582 350h1v1h-1zM582 356h1v1h-1zM583 351h1v1h-1zM583 355h1v1h-1zM584 352h1v1h-1zM584 354h1v1h-1zM585 353h1v1h-1zM586 354h1v1h-1zM586 352h1v1h-1zM587 355h1v1h-1zM587 351h1v1h-1zM588 356h1v1h-1zM588 350h1v1h-1z" fill="#ff0000"/>
<path d="M623 327h1v1h-1zM623 333h1v1h-1zM624 328h1v1h-1zM624 332h1v1h-1zM625 329h1v1h-1zM625 331h1v1h-1zM626 330h1v1h-1zM627 331h1v1h-1zM627 329h1v1h-1zM628 332h1v1h-1zM628 328h1v1h-1zM629 333h1v1h-1zM629 327h1v1h-1z" fill="#ff0000"/>
<path d="M665 309h1v1h-1zM665 315h1v1h-1zM666 310h1v1h-1zM666 314h1v1h-1zM667 311h1v1h-1zM667 313h1v1h-1zM668 312h1v1h-1zM669 313h1v1h-1zM669 311h1v1h-1zM670 314h1v1h-1zM670 310h1v1h-1zM671 315h1v1h-1zM671 309h1v1h-1z" fill="#ff0000"/>
<path d="M706 277h1v1h-1zM706 283h1v1h-1zM707 278h1v1h-1zM707 282h1v1h-1zM708 279h1v1h-1zM708 281h1v1h-1zM709 280h1v1h-1zM710 281h1v1h-1zM710 279h1v1h-1zM711 282h1v1h-1zM711 278h1v1h-1zM712 283h1v1h-1zM712 277h1v1h-1z" fill="#ff0000"/>
<path d="M747 263h1v1h-1zM747 269h1v1h-1zM748 264h1v1h-1zM748 268h1v1h-1zM749 265h1v1h-1zM749 267h1v1h-1zM750 266h1v1h-1zM751 267h1v1h-1zM751 265h1v1h-1zM752 268h1v1h-1zM752 264h1v1h-1zM753 269h1v1h-1zM753 263h1v1h-1z" fill="#ff0000"/>
<path d="M789 250h1v1h-1zM789 256h1v1h-1zM790 251h1v1h-1zM790 255h1v1h-1zM791 252h1v1h-1zM791 254h1v1h-1zM792 253h1v1h-1zM793 254h1v1h-1zM793 252h1v1h-1zM794 255h1v1h-1zM794 251h1v1h-1zM795 256h1v1h-1zM795 250h1v1h-1z" fill="#ff0000"/>
<path d="M830 235h1v1h-1zM830 241h1v1h-1zM831 236h1v1h-1zM831 240h1v1h-1zM832 237h1v1h-1zM832 239h1v1h-1zM833 238h1v1h-1zM834 239h1v1h-1zM834 237h1v1h-1zM835 240h1v1h-1zM835 236h1v1h-1zM836 241h1v1h-1zM836 235h1v1h-1z" fill="#ff0000"/>
<path d="M872 190h1v1h-1zM872 196h1v1h-1zM873 191h1v1h-1zM873 195h1v1h-1zM874 192h1v1h-1zM874 194h1v1h-1zM875 193h1v1h-1zM876 194h1v1h-1zM876 192h1v1h-1zM877 195h1v1h-1zM877 191h1v1h-1zM878 196h1v1h-1zM878 190h1v1h-1z" fill="#ff0000"/>
<path d="M913 165h1v1h-1zM913 171h1v1h-1zM914 166h1v1h-1zM914 170h1v1h-1zM915 167h1v1h-1zM915 169h1v1h-1zM916 168h1v1h-1zM917 169h1v1h-1zM917 167h1v1h-1zM918 170h1v1h-1zM918 166h1v1h-1zM919 171h1v1h-1zM919 165h1v1h-1z" fill="#ff0000"/>
<path d="M955 121h1v1h-1zM955 127h1v1h-1zM956 122h1v1h-1zM956 126h1v1h-1zM957 123h1v1h-1zM957 125h1v1h-1zM958 124h1v1h-1zM959 125h1v1h-1zM959 123h1v1h-1zM960 126h1v1h-1zM960 122h1v1h-1zM961 127h1v1h-1zM961 121h1v1h-1z" fill="#ff0000"/>
<polyline fill="none" stroke="#00ff00" stroke-width="1" points="253.5,446.5 295.5,447.5 336.5,428.5 377.5,412.5 419.5,408.5 460.5,393.5 502.5,378.5 543.5,370.5 585.5,350.5 626.5,328.5 668.5,309.5 709.5,287.5 750.5,265.5 792.5,253.5 833.5,254.5 875.5,230.5 916.5,230.5 958.5,122.5"/>
<path d="M250 443h1v1h-1zM250 449h1v1h-1zM251 444h1v1h-1zM251 448h1v1h-1zM252 445h1v1h-1zM252 447h1v1h-1zM253 446h1v1h-1zM254 447h1v1h-1zM254 445h1v1h-1zM255 448h1v1h-1zM255 444h1v1h-1zM256 449h1v1h-1zM256 443h1v1h-1z" fill="#00ff00"/>
<path d="M292 444h1v1h-1zM292 450h1v1h-1zM293 445h1v1h-1zM293 449h1v1h-1zM294 446h1v1h-1zM294 448h1v1h-1zM295 447h1v1h-1zM296 448h1v1h-1zM296 446h1v1h-1zM297 449h1v1h-1zM297 445h1v1h-1zM298 450h1v1h-1zM298 444h1v1h-1z" fill="#00ff00"/>
<path d="M333 425h1v1h-1zM333 431h1v1h-1zM334 426h1v1h-1zM334 430h1v1h-1zM335 427h1v1h-1zM335 429h1v1h-1zM336 428h1v1h-1zM337 429h1v1h-1zM337 427h1v1h-1zM338 430h1v1h-1zM338 426h1v1h-1zM339 431h1v1h-1zM339 425h1v1h-1z" fill="#00ff00"/>
<path d="M374 409h1v1h-1zM374 415h1v1h-1zM375 410h1v1h-1zM375 414h1v1h-1zM376 411h1v1h-1zM376 413h1v1h-1zM377 412h1v1h-1zM378 413h1v1h-1zM378 411h1v1h-1zM379 414h1v1h-1zM379 410h1v1h-1zM380 415h1v1h-1zM380 409h1v1h-1z" fill="#00ff00"/>
<path d="M416 405h1v1h-1zM416 411h1v1h-1zM417 406h1v1h-1zM417 410h1v1h-1zM418 407h1v1h-1zM418 409h1v1h-1zM419 408h1v1h-1zM420 409h1v1h-1zM420 407h1v1h-1zM421 410h1v1h-1zM421 406h1v1h-1zM422 411h1v1h-1zM422 405h1v1h-1z" fill="#00ff00"/>
<path d="M457 390h1v1h-1zM457 396h1v1h-1zM458 391h1v1h-1zM458 395h1v1h-1zM459 392h1v1h-1zM459 394h1v1h-1zM460 393h1v1h-1zM461 394h1v1h-1zM461 392h1v1h-1zM462 395h1v1h-1zM462 391h1v1h-1zM463 396h1v1h-1zM463 390h1v1h-1z" fill="#00ff00"/>
<path d="M499 375h1v1h-1zM499 381h1v1h-1zM500 376h1v1h-1zM500 380h1v1h-1zM501 377h1v1h-1zM501 379h1v1h-1zM502 378h1v1h-1zM503 379h1v1h-1zM503 377h1v1h-1zM504 380h1v1h-1zM504 376h1v1h-1zM505 381h1v1h-1zM505 375h1v1h-1z" fill="#00ff00"/>
<path d="M540 367h1v1h-1zM540 373h1v1h-1zM541 368h1v1h-1zM541 372h1v1h-1zM542 369h1v1h-1zM542 371h1v1h-1zM543 370h1v1h-1zM544 371h1v1h-1zM544 369h1v1h-1zM545 372h1v1h-1zM545 368h1v1h-1zM546 373h1v1h-1zM546 367h1v1h-1z" fill="#00ff00"/>
<path d="M582 347h1v1h-1zM582 353h1v1h-1zM583 348h1v1h-1zM583 352h1v1h-1zM584 349h1v1h-1zM584 351h1v1h-1zM585 350h1v1h-1zM586 351h1v1h-1zM586 349h1v1h-1zM587 352h1v1h-1zM587 348h1v1h-1zM588 353h1v1h-1zM588 347h1v1h-1z" fill="#00ff00"/>
<path d="M623 325h1v1h-1zM623 331h1v1h-1zM624 326h1v1h-1zM624 330h1v1h-1zM625 327h1v1h-1zM625 329h1v1h-1zM626 328h1v1h-1zM627 329h1v1h-1zM627 327h1v1h-1zM628 330h1v1h-1zM628 326h1v1h-1zM629 331h1v1h-1zM629 325h1v1h-1z" fill="#00ff00"/>
<path d="M665 306h1v1h-1zM665 312h1v1h-1zM666 307h1v1h-1zM666 311h1v1h-1zM667 308h1v1h-1zM667 310h1v1h-1zM668 309h1v1h-1zM669 310h1v1h-1zM669 308h1v1h-1zM670 311h1v1h-1zM670 307h1v1h-1zM671 312h1v1h-1zM671 306h1v1h-1z" fill="#00ff00"/>
<path d="M706 284h1v1h-1zM706 290h1v1h-1zM707 285h1v1h-1zM707 289h1v1h-1zM708 286h1v1h-1zM708 288h1v1h-1zM709 287h1v1h-1zM710 288h1v1h-1zM710 286h1v1h-1zM711 289h1v1h-1zM711 285h1v1h-1zM712 290h1v1h-1zM712 284h1v1h-1z" fill="#00ff00"/>
<path d="M747 262h1v1h-1zM747 268h1v1h-1zM748 263h1v1h-1zM748 267h1v1h-1zM749 264h1v1h-1zM749 266h1v1h-1zM750 265h1v1h-1zM751 266h1v1h-1zM751 264h1v1h-1zM752 267h1v1h-1zM752 263h1v1h-1zM753 268h1v1h-1zM753 262h1v1h-1z" fill="#00ff00"/>
<path d="M789 250h1v1h-1zM789 256h1v1h-1zM790 251h1v1h-1zM790 255h1v1h-1zM791 252h1v1h-1zM791 254h1v1h-1zM792 253h1v1h-1zM793 254h1v1h-1zM793 252h1v1h-1zM794 255h1v1h-1zM794 251h1v1h-1zM795 256h1v1h-1zM795 250h1v1h-1z" fill="#00ff00"/>
<path d="M830 251h1v1h-1zM830 257h1v1h-1zM831 252h1v1h-1zM831 256h1v1h-1zM832 253h1v1h-1zM832 255h1v1h-1zM833 254h1v1h-1zM834 255h1v1h-1zM834 253h1v1h-1zM835 256h1v1h-1zM835 252h1v1h-1zM836 257h1v1h-1zM836 251h1v1h-1z" fill="#00ff00"/>
<path d="M872 227h1v1h-1zM872 233h1v1h-1zM873 228h1v1h-1zM873 232h1v1h-1zM874 229h1v1h-1zM874 231h1v1h-1zM875 230h1v1h-1zM876 231h1v1h-1zM876 229h1v1h-1zM877 232h1v1h-1zM877 228h1v1h-1zM878 233h1v1h-1zM878 227h1v1h-1z" fill="#00ff00"/>
<path d="M913 227h1v1h-1zM913 233h1v1h-1zM914 228h1v1h-1zM914 232h1v1h-1zM915 229h1v1h-1zM915 231h1v1h-1zM916 230h1v1h-1zM917 231h1v1h-1zM917 229h1v1h-1zM918 232h1v1h-1zM918 228h1v1h-1zM919 233h1v1h-1zM919 227h1v1h-1z" fill="#00ff00"/>
<path d="M955 119h1v1h-1zM955 125h1v1h-1zM956 120h1v1h-1zM956 124h1v1h-1zM957 121h1v1h-1zM957 123h1v1h-1zM958 122h1v1h-1zM959 123h1v1h-1zM959 121h1v1h-1zM960 124h1v1h-1zM960 120h1v1h-1zM961 125h1v1h-1zM961 119h1v1h-1z" fill="#00ff00"/>
<polyline fill="none" stroke="#0000ff" stroke-width="1" points="253.5,485.5 295.5,460.5 336.5,451.5 377.5,443.5 419.5,426.5 460.5,409.5 502.5,389.5 543.5,375.5 585.5,356.5 626.5,336.5 668.5,319.5 709.5,292.5 750.5,262.5 792.5,242.5 833.5,242.5 875.5,203.5 916.5,204.5 958.5,97.5"/>
<path d="M250 482h1v1h-1zM250 488h1v1h-1zM251 483h1v1h-1zM251 487h1v1h-1zM252 484h1v1h-1zM252 486h1v1h-1zM253 485h1v1h-1zM254 486h1v1h-1zM254 484h1v1h-1zM255 487h1v1h-1zM255 483h1v1h-1zM256 488h1v1h-1zM256 482h1v1h-1z" fill="#0000ff"/>
<path d="M292 457h1v1h-1zM292 463h1v1h-1zM293 458h1v1h-1zM293 462h1v1h-1zM294 459h1v1h-1zM294 461h1v1h-1zM295 460h1v1h-1zM296 461h1v1h-1zM296 459h1v1h-1zM297 462h1v1h-1zM297 458h1v1h-1zM298 463h1v1h-1zM298 457h1v1h-1z" fill="#0000ff"/>
<path d="M333 448h1v1h-1zM333 454h1v1h-1zM334 449h1v1h-1zM334 453h1v1h-1zM335 450h1v1h-1zM335 452h1v1h-1zM336 451h1v1h-1zM337 452h1v1h-1zM337 450h1v1h-1zM338 453h1v1h-1zM338 449h1v1h-1zM339 454h1v1h-1zM339 448h1v1h-1z" fill="#0000ff"/>
<path d="M374 440h1v1h-1zM374 446h1v1h-1zM375 441h1v1h-1zM375 445h1v1h-1zM376 442h1v1h-1zM376 444h1v1h-1zM377 443h1v1h-1zM378 444h1v1h-1zM378 442h1v1h-1zM379 445h1v1h-1zM379 441h1v1h-1zM380 446h1v1h-1zM380 440h1v1h-1z" fill="#0000ff"/>
<path d="M416 423h1v1h-1zM416 429h1v1h-1zM417 424h1v1h-1zM417 428h1v1h-1zM418 425h1v1h-1zM418 427h1v1h-1zM419 426h1v1h-1zM420 427h1v1h-1zM420 425h1v1h-1zM421 428h1v1h-1zM421 424h1v1h-1zM422 429h1v1h-1zM422 423h1v1h-1z" fill="#0000ff"/>
<path d="M457 406h1v1h-1zM457 412h1v1h-1zM458 407h1v1h-1zM458 411h1v1h-1zM459 408h1v1h-1zM459 410h1v1h-1zM460 409h1v1h-1zM461 410h1v1h-1zM461 408h1v1h-1zM462 411h1v1h-1zM462 407h1v1h-1zM463 412h1v1h-1zM463 406h1v1h-1z" fill="#0000ff"/>
<path d="M499 386h1v1h-1zM499 392h1v1h-1zM500 387h1v1h-1zM500 391h1v1h-1zM501 388h1v1h-1zM501 390h1v1h-1zM502 389h1v1h-1zM503 390h1v1h-1zM503 388h1v1h-1zM504 391h1v1h-1zM504 387h1v1h-1zM505 392h1v1h-1zM505 386h1v1h-1z" fill="#0000ff"/>
<path d="M540 372h1v1h-1zM540 378h1v1h-1zM541 373h1v1h-1zM541 377h1v1h-1zM542 374h1v1h-1zM542 376h1v1h-1zM543 375h1v1h-1zM544 376h1v1h-1zM544 374h1v1h-1zM545 377h1v1h-1zM545 373h1v1h-1zM546 378h1v1h-1zM546 372h1v1h-1z" fill="#0000ff"/>
<path d="M582 353h1v1h-1zM582 359h1v1h-1zM583 354h1v1h-1zM583 358h1v1h-1zM584 355h1v1h-1zM584 357h1v1h-1zM585 356h1v1h-1zM586 357h1v1h-1zM586 355h1v1h-1zM587 358h1v1h-1zM587 354h1v1h-1zM588 359h1v1h-1zM588 353h1v1h-1z" fill="#0000ff"/>
<path d="M623 333h1v1h-1zM623 339h1v1h-1zM624 334h1v1h-1zM624 338h1v1h-1zM625 335h1v1h-1zM625 337h1v1h-1zM626 336h1v1h-1zM627 337h1v1h-1zM627 335h1v1h-1zM628 338h1v1h-1zM628 334h1v1h-1zM629 339h1v1h-1zM629 333h1v1h-1z" fill="#0000ff"/>
<path d="M665 316h1v1h-1zM665 322h1v1h-1zM666 317h1v1h-1zM666 321h1v1h-1zM667 318h1v1h-1zM667 320h1v1h-1zM668 319h1v1h-1zM669 320h1v1h-1zM669 318h1v1h-1zM670 321h1v1h-1zM670 317h1v1h-1zM671 322h1v1h-1zM671 316h1v1h-1z" fill="#0000ff"/>
<path d="M706 289h1v1h-1zM706 295h1v1h-1zM707 290h1v1h-1zM707 294h1v1h-1zM708 291h1v1h-1zM708 293h1v1h-1zM709 292h1v1h-1zM710 293h1v1h-1zM710 291h1v1h-1zM711 294h1v1h-1zM711 290h1v1h-1zM712 295h1v1h-1zM712 289h1v1h-1z" fill="#0000ff"/>
<path d="M747 259h1v1h-1zM747 265h1v1h-1zM748 260h1v1h-1zM748 264h1v1h-1zM749 261h1v1h-1zM749 263h1v1h-1zM750 262h1v1h-1zM751 263h1v1h-1zM751 261h1v1h-1zM752 264h1v1h-1zM752 260h1v1h-1zM753 265h1v1h-1zM753 259h1v1h-1z" fill="#0000ff"/>
<path d="M789 239h1v1h-1zM789 245h1v1h-1zM790 240h1v1h-1zM790 244h1v1h-1zM791 241h1v1h-1zM791 243h1v1h-1zM792 242h1v1h-1zM793 243h1v1h-1zM793 241h1v1h-1zM794 244h1v1h-1zM794 240h1v1h-1zM795 245h1v1h-1zM795 239h1v1h-1z" fill="#0000ff"/>
<path d="M830 239h1v1h-1zM830 245h1v1h-1zM831 240h1v1h-1zM831 244h1v1h-1zM832 241h1v1h-1zM832 243h1v1h-1zM833 242h1v1h-1zM834 243h1v1h-1zM834 241h1v1h-1zM835 244h1v1h-1zM835 240h1v1h-1zM836 245h1v1h-1zM836 239h1v1h-1z" fill="#0000ff"/>
<path d="M872 200h1v1h-1zM872 206h1v1h-1zM873 201h1v1h-1zM873 205h1v1h-1zM874 202h1v1h-1zM874 204h1v1h-1zM875 203h1v1h-1zM876 204h1v1h-1zM876 202h1v1h-1zM877 205h1v1h-1zM877 201h1v1h-1zM878 206h1v1h-1zM878 200h1v1h-1z" fill="#0000ff"/>
<path d="M913 201h1v1h-1zM913 207h1v1h-1zM914 202h1v1h-1zM914 206h1v1h-1zM915 203h1v1h-1zM915 205h1v1h-1zM916 204h1v1h-1zM917 205h1v1h-1zM917 203h1v1h-1zM918 206h1v1h-1zM918 202h1v1h-1zM919 207h1v1h-1zM919 201h1v1h-1z" fill="#0000ff"/>
<path d="M955 94h1v1h-1zM955 100h1v1h-1zM956 95h1v1h-1zM956 99h1v1h-1zM957 96h1v1h-1zM957 98h1v1h-1zM958 97h1v1h-1zM959 98h1v1h-1zM959 96h1v1h-1zM960 99h1v1h-1zM960 95h1v1h-1zM961 100h1v1h-1zM961 94h1v1h-1z" fill="#0000ff"/>
<polyline fill="none" stroke="#808000" stroke-width="1" points="87.5,470.5 129.5,470.5 170.5,481.5 212.5,481.5 253.5,466.5 295.5,442.5 336.5,434.5 377.5,424.5 419.5,404.5 460.5,385.5 502.5,364.5 543.5,351.5 585.5,322.5 626.5,300.5 668.5,281.5 709.5,257.5 750.5,230.5 792.5,218.5 833.5,185.5 875.5,160.5 916.5,159.5 958.5,45.5"/>
<path d="M84 467h1v1h-1zM84 473h1v1h-1zM85 468h1v1h-1zM85 472h1v1h-1zM86 469h1v1h-1zM86 471h1v1h-1zM87 470h1v1h-1zM88 471h1v1h-1zM88 469h1v1h-1zM89 472h1v1h-1zM89 468h1v1h-1zM90 473h1v1h-1zM90 467h1v1h-1z" fill="#808000"/>
<path d="M126 467h1v1h-1zM126 473h1v1h-1zM127 468h1v1h-1zM127 472h1v1h-1zM128 469h1v1h-1zM128 471h1v1h-1zM129 470h1v1h-1zM130 471h1v1h-1zM130 469h1v1h-1zM131 472h1v1h-1zM131 468h1v1h-1zM132 473h1v1h-1zM132 467h1v1h-1z" fill="#808000"/>
<path d="M167 478h1v1h-1zM167 484h1v1h-1zM168 479h1v1h-1zM168 483h1v1h-1zM169 480h1v1h-1zM169 482h1v1h-1zM170 481h1v1h-1zM171 482h1v1h-1zM171 480h1v1h-1zM172 483h1v1h-1zM172 479h1v1h-1zM173 484h1v1h-1zM173 478h1v1h-1z" fill="#808000"/>
<path d="M209 478h1v1h-1zM209 484h1v1h-1zM210 479h1v1h-1zM210 483h1v1h-1zM211 480h1v1h-1zM211 482h1v1h-1zM212 481h1v1h-1zM213 482h1v1h-1zM213 480h1v1h-1zM214 483h1v1h-1zM214 479h1v1h-1zM215 484h1v1h-1zM215 478h1v1h-1z" fill="#808000"/>
<path d="M250 463h1v1h-1zM250 469h1v1h-1zM251 464h1v1h-1zM251 468h1v1h-1zM252 465h1v1h-1zM252 467h1v1h-1zM253 466h1v1h-1zM254 467h1v1h-1zM254 465h1v1h-1zM255 468h1v1h-1zM255 464h1v1h-1zM256 469h1v1h-1zM256 463h1v1h-1z" fill="#808000"/>
<path d="M292 439h1v1h-1zM292 445h1v1h-1zM293 440h1v1h-1zM293 444h1v1h-1zM294 441h1v1h-1zM294 443h1v1h-1zM295 442h1v1h-1zM296 443h1v1h-1zM296 441h1v1h-1zM297 444h1v1h-1zM297 440h1v1h-1zM298 445h1v1h-1zM298 439h1v1h-1z" fill="#808000"/>
<path d="M333 431h1v1h-1zM333 437h1v1h-1zM334 432h1v1h-1zM334 436h1v1h-1zM335 433h1v1h-1zM335 435h1v1h-1zM336 434h1v1h-1zM337 435h1v1h-1zM337 433h1v1h-1zM338 436h1v1h-1zM338 432h1v1h-1zM339 437h1v1h-1zM339 431h1v1h-1z" fill="#808000"/>
<path d="M374 421h1v1h-1zM374 427h1v1h-1zM375 422h1v1h-1zM375 426h1v1h-1zM376 423h1v1h-1zM376 425h1v1h-1zM377 424h1v1h-1zM378 425h1v1h-1zM378 423h1v1h-1zM379 426h1v1h-1zM379 422h1v1h-1zM380 427h1v1h-1zM380 421h1v1h-1z" fill="#808000"/>
<path d="M416 401h1v1h-1zM416 407h1v1h-1zM417 402h1v1h-1zM417 406h1v1h-1zM418 403h1v1h-1zM418 405h1v1h-1zM419 404h1v1h-1zM420 405h1v1h-1zM420 403h1v1h-1zM421 406h1v1h-1zM421 402h1v1h-1zM422 407h1v1h-1zM422 401h1v1h-1z" fill="#808000"/>
<path d="M457 382h1v1h-1zM457 388h1v1h-1zM458 383h1v1h-1zM458 387h1v1h-1zM459 384h1v1h-1zM459 386h1v1h-1zM460 385h1v1h-1zM461 386h1v1h-1zM461 384h1v1h-1zM462 387h1v1h-1zM462 383h1v1h-1zM463 388h1v1h-1zM463 382h1v1h-1z" fill="#808000"/>
<path d="M499 361h1v1h-1zM499 367h1v1h-1zM500 362h1v1h-1zM500 366h1v1h-1zM501 363h1v1h-1zM501 365h1v1h-1zM502 364h1v1h-1zM503 365h1v1h-1zM503 363h1v1h-1zM504 366h1v1h-1zM504 362h1v1h-1zM505 367h1v1h-1zM505 361h1v1h-1z" fill="#808000"/>
<path d="M540 348h1v1h-1zM540 354h1v1h-1zM541 349h1v1h-1zM541 353h1v1h-1zM542 350h1v1h-1zM542 352h1v1h-1zM543 351h1v1h-1zM544 352h1v1h-1zM544 350h1v1h-1zM545 353h1v1h-1zM545 349h1v1h-1zM546 354h1v1h-1zM546 348h1v1h-1z" fill="#808000"/>
<path d="M582 319h1v1h-1zM582 325h1v1h-1zM583 320h1v1h-1zM583 324h1v1h-1zM584 321h1v1h-1zM584 323h1v1h-1zM585 322h1v1h-1zM586 323h1v1h-1zM586 321h1v1h-1zM587 324h1v1h-1zM587 320h1v1h-1zM588 325h1v1h-1zM588 319h1v1h-1z" fill="#808000"/>
<path d="M623 297h1v1h-1zM623 303h1v1h-1zM624 298h1v1h-1zM624 302h1v1h-1zM625 299h1v1h-1zM625 301h1v1h-1zM626 300h1v1h-1zM627 301h1v1h-1zM627 299h1v1h-1zM628 302h1v1h-1zM628 298h1v1h-1zM629 303h1v1h-1zM629 297h1v1h-1z" fill="#808000"/>
<path d="M665 278h1v1h-1zM665 284h1v1h-1zM666 279h1v1h-1zM666 283h1v1h-1zM667 280h1v1h-1zM667 282h1v1h-1zM668 281h1v1h-1zM669 282h1v1h-1zM669 280h1v1h-1zM670 283h1v1h-1zM670 279h1v1h-1zM671 284h1v1h-1zM671 278h1v1h-1z" fill="#808000"/>
<path d="M706 254h1v1h-1zM706 260h1v1h-1zM707 255h1v1h-1zM707 259h1v1h-1zM708 256h1v1h-1zM708 258h1v1h-1zM709 257h1v1h-1zM710 258h1v1h-1zM710 256h1v1h-1zM711 259h1v1h-1zM711 255h1v1h-1zM712 260h1v1h-1zM712 254h1v1h-1z" fill="#808000"/>
<path d="M747 227h1v1h-1zM747 233h1v1h-1zM748 228h1v1h-1zM748 232h1v1h-1zM749 229h1v1h-1zM749 231h1v1h-1zM750 230h1v1h-1zM751 231h1v1h-1zM751 229h1v1h-1zM752 232h1v1h-1zM752 228h1v1h-1zM753 233h1v1h-1zM753 227h1v1h-1z" fill="#808000"/>
<path d="M789 215h1v1h-1zM789 221h1v1h-1zM790 216h1v1h-1zM790 220h1v1h-1zM791 217h1v1h-1zM791 219h1v1h-1zM792 218h1v1h-1zM793 219h1v1h-1zM793 217h1v1h-1zM794 220h1v1h-1zM794 216h1v1h-1zM795 221h1v1h-1zM795 215h1v1h-1z" fill="#808000"/>
<path d="M830 182h1v1h-1zM830 188h1v1h-1zM831 183h1v1h-1zM831 187h1v1h-1zM832 184h1v1h-1zM832 186h1v1h-1zM833 185h1v1h-1zM834 186h1v1h-1zM834 184h1v1h-1zM835 187h1v1h-1zM835 183h1v1h-1zM836 188h1v1h-1zM836 182h1v1h-1z" fill="#808000"/>
<path d="M872 157h1v1h-1zM872 163h1v1h-1zM873 158h1v1h-1zM873 162h1v1h-1zM874 159h1v1h-1zM874 161h1v1h-1zM875 160h1v1h-1zM876 161h1v1h-1zM876 159h1v1h-1zM877 162h1v1h-1zM877 158h1v1h-1zM878 163h1v1h-1zM878 157h1v1h-1z" fill="#808000"/>
<path d="M913 156h1v1h-1zM913 162h1v1h-1zM914 157h1v1h-1zM914 161h1v1h-1zM915 158h1v1h-1zM915 160h1v1h-1zM916 159h1v1h-1zM917 160h1v1h-1zM917 158h1v1h-1zM918 161h1v1h-1zM918 157h1v1h-1zM919 162h1v1h-1zM919 156h1v1h-1z" fill="#808000"/>
<path d="M955 42h1v1h-1zM955 48h1v1h-1zM956 43h1v1h-1zM956 47h1v1h-1zM957 44h1v1h-1zM957 46h1v1h-1zM958 45h1v1h-1zM959 46h1v1h-1zM959 44h1v1h-1zM960 47h1v1h-1zM960 43h1v1h-1zM961 48h1v1h-1zM961 42h1v1h-1z" fill="#808000"/>
<polyline fill="none" stroke="#ff00ff" stroke-width="1" points="253.5,462.5 295.5,428.5 336.5,421.5 377.5,410.5 419.5,389.5 460.5,382.5 502.5,376.5 543.5,358.5 585.5,337.5 626.5,316.5 668.5,298.5 709.5,257.5 750.5,212.5 792.5,201.5 833.5,200.5 875.5,167.5 916.5,167.5 958.5,53.5"/>
<path d="M250 459h1v1h-1zM250 465h1v1h-1zM251 460h1v1h-1zM251 464h1v1h-1zM252 461h1v1h-1zM252 463h1v1h-1zM253 462h1v1h-1zM254 463h1v1h-1zM254 461h1v1h-1zM255 464h1v1h-1zM255 460h1v1h-1zM256 465h1v1h-1zM256 459h1v1h-1z" fill="#ff00ff"/>
<path d="M292 425h1v1h-1zM292 431h1v1h-1zM293 426h1v1h-1zM293 430h1v1h-1zM294 427h1v1h-1zM294 429h1v1h-1zM295 428h1v1h-1zM296 429h1v1h-1zM296 427h1v1h-1zM297 430h1v1h-1zM297 426h1v1h-1zM298 431h1v1h-1zM298 425h1v1h-1z" fill="#ff00ff"/>
<path d="M333 418h1v1h-1zM333 424h1v1h-1zM334 419h1v1h-1zM334 423h1v1h-1zM335 420h1v1h-1zM335 422h1v1h-1zM336 421h1v1h-1zM337 422h1v1h-1zM337 420h1v1h-1zM338 423h1v1h-1zM338 419h1v1h-1zM339 424h1v1h-1zM339 418h1v1h-1z" fill="#ff00ff"/>
<path d="M374 407h1v1h-1zM374 413h1v1h-1zM375 408h1v1h-1zM375 412h1v1h-1zM376 409h1v1h-1zM376 411h1v1h-1zM377 410h1v1h-1zM378 411h1v1h-1zM378 409h1v1h-1zM379 412h1v1h-1zM379 408h1v1h-1zM380 413h1v1h-1zM380 407h1v1h-1z" fill="#ff00ff"/>
<path d="M416 386h1v1h-1zM416 392h1v1h-1zM417 387h1v1h-1zM417 391h1v1h-1zM418 388h1v1h-1zM418 390h1v1h-1zM419 389h1v1h-1zM420 390h1v1h-1zM420 388h1v1h-1zM421 391h1v1h-1zM421 387h1v1h-1zM422 392h1v1h-1zM422 386h1v1h-1z" fill="#ff00ff"/>
<path d="M457 379h1v1h-1zM457 385h1v1h-1zM458 380h1v1h-1zM458 384h1v1h-1zM459 381h1v1h-1zM459 383h1v1h-1zM460 382h1v1h-1zM461 383h1v1h-1zM461 381h1v1h-1zM462 384h1v1h-1zM462 380h1v1h-1zM463 385h1v1h-1zM463 379h1v1h-1z" fill="#ff00ff"/>
<path d="M499 373h1v1h-1zM499 379h1v1h-1zM500 374h1v1h-1zM500 378h1v1h-1zM501 375h1v1h-1zM501 377h1v1h-1zM502 376h1v1h-1zM503 377h1v1h-1zM503 375h1v1h-1zM504 378h1v1h-1zM504 374h1v1h-1zM505 379h1v1h-1zM505 373h1v1h-1z" fill="#ff00ff"/>
<path d="M540 355h1v1h-1zM540 361h1v1h-1zM541 356h1v1h-1zM541 360h1v1h-1zM542 357h1v1h-1zM542 359h1v1h-1zM543 358h1v1h-1zM544 359h1v1h-1zM544 357h1v1h-1zM545 360h1v1h-1zM545 356h1v1h-1zM546 361h1v1h-1zM546 355h1v1h-1z" fill="#ff00ff"/>
<path d="M582 334h1v1h-1zM582 340h1v1h-1zM583 335h1v1h-1zM583 339h1v1h-1zM584 336h1v1h-1zM584 338h1v1h-1zM585 337h1v1h-1zM586 338h1v1h-1zM586 336h1v1h-1zM587 339h1v1h-1zM587 335h1v1h-1zM588 340h1v1h-1zM588 334h1v1h-1z" fill="#ff00ff"/>
<path d="M623 313h1v1h-1zM623 319h1v1h-1zM624 314h1v1h-1zM624 318h1v1h-1zM625 315h1v1h-1zM625 317h1v1h-1zM626 316h1v1h-1zM627 317h1v1h-1zM627 315h1v1h-1zM628 318h1v1h-1zM628 314h1v1h-1zM629 319h1v1h-1zM629 313h1v1h-1z" fill="#ff00ff"/>
<path d="M665 295h1v1h-1zM665 301h1v1h-1zM666 296h1v1h-1zM666 300h1v1h-1zM667 297h1v1h-1zM667 299h1v1h-1zM668 298h1v1h-1zM669 299h1v1h-1zM669 297h1v1h-1zM670 300h1v1h-1zM670 296h1v1h-1zM671 301h1v1h-1zM671 295h1v1h-1z" fill="#ff00ff"/>
<path d="M706 254h1v1h-1zM706 260h1v1h-1zM707 255h1v1h-1zM707 259h1v1h-1zM708 256h1v1h-1zM708 258h1v1h-1zM709 257h1v1h-1zM710 258h1v1h-1zM710 256h1v1h-1zM711 259h1v1h-1zM711 255h1v1h-1zM712 260h1v1h-1zM712 254h1v1h-1z" fill="#ff00ff"/>
<path d="M747 209h1v1h-1zM747 215h1v1h-1zM748 210h1v1h-1zM748 214h1v1h-1zM749 211h1v1h-1zM749 213h1v1h-1zM750 212h1v1h-1zM751 213h1v1h-1zM751 211h1v1h-1zM752 214h1v1h-1zM752 210h1v1h-1zM753 215h1v1h-1zM753 209h1v1h-1z" fill="#ff00ff"/>
<path d="M789 198h1v1h-1zM789 204h1v1h-1zM790 199h1v1h-1zM790 203h1v1h-1zM791 200h1v1h-1zM791 202h1v1h-1zM792 201h1v1h-1zM793 202h1v1h-1zM793 200h1v1h-1zM794 203h1v1h-1zM794 199h1v1h-1zM795 204h1v1h-1zM795 198h1v1h-1z" fill="#ff00ff"/>
<path d="M830 197h1v1h-1zM830 203h1v1h-1zM831 198h1v1h-1zM831 202h1v1h-1zM832 199h1v1h-1zM832 201h1v1h-1zM833 200h1v1h-1zM834 201h1v1h-1zM834 199h1v1h-1zM835 202h1v1h-1zM835 198h1v1h-1zM836 203h1v1h-1zM836 197h1v1h-1z" fill="#ff00ff"/>
<path d="M872 164h1v1h-1zM872 170h1v1h-1zM873 165h1v1h-1zM873 169h1v1h-1zM874 166h1v1h-1zM874 168h1v1h-1zM875 167h1v1h-1zM876 168h1v1h-1zM876 166h1v1h-1zM877 169h1v1h-1zM877 165h1v1h-1zM878 170h1v1h-1zM878 164h1v1h-1z" fill="#ff00ff"/>
<path d="M913 164h1v1h-1zM913 170h1v1h-1zM914 165h1v1h-1zM914 169h1v1h-1zM915 166h1v1h-1zM915 168h1v1h-1zM916 167h1v1h-1zM917 168h1v1h-1zM917 166h1v1h-1zM918 169h1v1h-1zM918 165h1v1h-1zM919 170h1v1h-1zM919 164h1v1h-1z" fill="#ff00ff"/>
<path d="M955 50h1v1h-1zM955 56h1v1h-1zM956 51h1v1h-1zM956 55h1v1h-1zM957 52h1v1h-1zM957 54h1v1h-1zM958 53h1v1h-1zM959 54h1v1h-1zM959 52h1v1h-1zM960 55h1v1h-1zM960 51h1v1h-1zM961 56h1v1h-1zM961 50h1v1h-1z" fill="#ff00ff"/>
<polyline fill="none" stroke="#00ffff" stroke-width="1" points="253.5,463.5 295.5,435.5 336.5,427.5 377.5,432.5 419.5,412.5 460.5,400.5 502.5,381.5 543.5,374.5 585.5,374.5 626.5,337.5 668.5,323.5 709.5,298.5 750.5,273.5 792.5,259.5 833.5,258.5 875.5,235.5 916.5,235.5 958.5,126.5"/>
<path d="M250 460h1v1h-1zM250 466h1v1h-1zM251 461h1v1h-1zM251 465h1v1h-1zM252 462h1v1h-1zM252 464h1v1h-1zM253 463h1v1h-1zM254 464h1v1h-1zM254 462h1v1h-1zM255 465h1v1h-1zM255 461h1v1h-1zM256 466h1v1h-1zM256 460h1v1h-1z" fill="#00ffff"/>
<path d="M292 432h1v1h-1zM292 438h1v1h-1zM293 433h1v1h-1zM293 437h1v1h-1zM294 434h1v1h-1zM294 436h1v1h-1zM295 435h1v1h-1zM296 436h1v1h-1zM296 434h1v1h-1zM297 437h1v1h-1zM297 433h1v1h-1zM298 438h1v1h-1zM298 432h1v1h-1z" fill="#00ffff"/>
<path d="M333 424h1v1h-1zM333 430h1v1h-1zM334 425h1v1h-1zM334 429h1v1h-1zM335 426h1v1h-1zM335 428h1v1h-1zM336 427h1v1h-1zM337 428h1v1h-1zM337 426h1v1h-1zM338 429h1v1h-1zM338 425h1v1h-1zM339 430h1v1h-1zM339 424h1v1h-1z" fill="#00ffff"/>
<path d="M374 429h1v1h-1zM374 435h1v1h-1zM375 430h1v1h-1zM375 434h1v1h-1zM376 431h1v1h-1zM376 433h1v1h-1zM377 432h1v1h-1zM378 433h1v1h-1zM378 431h1v1h-1zM379 434h1v1h-1zM379 430h1v1h-1zM380 435h1v1h-1zM380 429h1v1h-1z" fill="#00ffff"/>
<path d="M416 409h1v1h-1zM416 415h1v1h-1zM417 410h1v1h-1zM417 414h1v1h-1zM418 411h1v1h-1zM418 413h1v1h-1zM419 412h1v1h-1zM420 413h1v1h-1zM420 411h1v1h-1zM421 414h1v1h-1zM421 410h1v1h-1zM422 415h1v1h-1zM422 409h1v1h-1z" fill="#00ffff"/>
<path d="M457 397h1v1h-1zM457 403h1v1h-1zM458 398h1v1h-1zM458 402h1v1h-1zM459 399h1v1h-1zM459 401h1v1h-1zM460 400h1v1h-1zM461 401h1v1h-1zM461 399h1v1h-1zM462 402h1v1h-1zM462 398h1v1h-1zM463 403h1v1h-1zM463 397h1v1h-1z" fill="#00ffff"/>
<path d="M499 378h1v1h-1zM499 384h1v1h-1zM500 379h1v1h-1zM500 383h1v1h-1zM501 380h1v1h-1zM501 382h1v1h-1zM502 381h1v1h-1zM503 382h1v1h-1zM503 380h1v1h-1zM504 383h1v1h-1zM504 379h1v1h-1zM505 384h1v1h-1zM505 378h1v1h-1z" fill="#00ffff"/>
<path d="M540 371h1v1h-1zM540 377h1v1h-1zM541 372h1v1h-1zM541 376h1v1h-1zM542 373h1v1h-1zM542 375h1v1h-1zM543 374h1v1h-1zM544 375h1v1h-1zM544 373h1v1h-1zM545 376h1v1h-1zM545 372h1v1h-1zM546 377h1v1h-1zM546 371h1v1h-1z" fill="#00ffff"/>
<path d="M582 371h1v1h-1zM582 377h1v1h-1zM583 372h1v1h-1zM583 376h1v1h-1zM584 373h1v1h-1zM584 375h1v1h-1zM585 374h1v1h-1zM586 375h1v1h-1zM586 373h1v1h-1zM587 376h1v1h-1zM587 372h1v1h-1zM588 377h1v1h-1zM588 371h1v1h-1z" fill="#00ffff"/>
<path d="M623 334h1v1h-1zM623 340h1v1h-1zM624 335h1v1h-1zM624 339h1v1h-1zM625 336h1v1h-1zM625 338h1v1h-1zM626 337h1v1h-1zM627 338h1v1h-1zM627 336h1v1h-1zM628 339h1v1h-1zM628 335h1v1h-1zM629 340h1v1h-1zM629 334h1v1h-1z" fill="#00ffff"/>
<path d="M665 320h1v1h-1zM665 326h1v1h-1zM666 321h1v1h-1zM666 325h1v1h-1zM667 322h1v1h-1zM667 324h1v1h-1zM668 323h1v1h-1zM669 324h1v1h-1zM669 322h1v1h-1zM670 325h1v1h-1zM670 321h1v1h-1zM671 326h1v1h-1zM671 320h1v1h-1z" fill="#00ffff"/>
<path d="M706 295h1v1h-1zM706 301h1v1h-1zM707 296h1v1h-1zM707 300h1v1h-1zM708 297h1v1h-1zM708 299h1v1h-1zM709 298h1v1h-1zM710 299h1v1h-1zM710 297h1v1h-1zM711 300h1v1h-1zM711 296h1v1h-1zM712 301h1v1h-1zM712 295h1v1h-1z" fill="#00ffff"/>
<path d="M747 270h1v1h-1zM747 276h1v1h-1zM748 271h1v1h-1zM748 275h1v1h-1zM749 272h1v1h-1zM749 274h1v1h-1zM750 273h1v1h-1zM751 274h1v1h-1zM751 272h1v1h-1zM752 275h1v1h-1zM752 271h1v1h-1zM753 276h1v1h-1zM753 270h1v1h-1z" fill="#00ffff"/>
<path d="M789 256h1v1h-1zM789 262h1v1h-1zM790 257h1v1h-1zM790 261h1v1h-1zM791 258h1v1h-1zM791 260h1v1h-1zM792 259h1v1h-1zM793 260h1v1h-1zM793 258h1v1h-1zM794 261h1v1h-1zM794 257h1v1h-1zM795 262h1v1h-1zM795 256h1v1h-1z" fill="#00ffff"/>
<path d="M830 255h1v1h-1zM830 261h1v1h-1zM831 256h1v1h-1zM831 260h1v1h-1zM832 257h1v1h-1zM832 259h1v1h-1zM833 258h1v1h-1zM834 259h1v1h-1zM834 257h1v1h-1zM835 260h1v1h-1zM835 256h1v1h-1zM836 261h1v1h-1zM836 255h1v1h-1z" fill="#00ffff"/>
<path d="M872 232h1v1h-1zM872 238h1v1h-1zM873 233h1v1h-1zM873 237h1v1h-1zM874 234h1v1h-1zM874 236h1v1h-1zM875 235h1v1h-1zM876 236h1v1h-1zM876 234h1v1h-1zM877 237h1v1h-1zM877 233h1v1h-1zM878 238h1v1h-1zM878 232h1v1h-1z" fill="#00ffff"/>
<path d="M913 232h1v1h-1zM913 238h1v1h-1zM914 233h1v1h-1zM914 237h1v1h-1zM915 234h1v1h-1zM915 236h1v1h-1zM916 235h1v1h-1zM917 236h1v1h-1zM917 234h1v1h-1zM918 237h1v1h-1zM918 233h1v1h-1zM919 238h1v1h-1zM919 232h1v1h-1z" fill="#00ffff"/>
<path d="M955 123h1v1h-1zM955 129h1v1h-1zM956 124h1v1h-1zM956 128h1v1h-1zM957 125h1v1h-1zM957 127h1v1h-1zM958 126h1v1h-1zM959 127h1v1h-1zM959 125h1v1h-1zM960 128h1v1h-1zM960 124h1v1h-1zM961 129h1v1h-1zM961 123h1v1h-1z" fill="#00ffff"/>
<polyline fill="none" stroke="#ffa500" stroke-width="1" points="87.5,531.5 129.5,531.5 170.5,531.5 212.5,531.5 253.5,472.5 295.5,442.5 336.5,434.5 377.5,451.5 419.5,434.5 460.5,417.5 502.5,397.5 543.5,383.5 585.5,338.5 626.5,330.5 668.5,298.5 709.5,274.5 750.5,247.5 792.5,241.5 833.5,238.5 875.5,215.5 916.5,182.5 958.5,90.5"/>
<path d="M84 528h1v1h-1zM84 534h1v1h-1zM85 529h1v1h-1zM85 533h1v1h-1zM86 530h1v1h-1zM86 532h1v1h-1zM87 531h1v1h-1zM88 532h1v1h-1zM88 530h1v1h-1zM89 533h1v1h-1zM89 529h1v1h-1zM90 534h1v1h-1zM90 528h1v1h-1z" fill="#ffa500"/>
<path d="M126 528h1v1h-1zM126 534h1v1h-1zM127 529h1v1h-1zM127 533h1v1h-1zM128 530h1v1h-1zM128 532h1v1h-1zM129 531h1v1h-1zM130 532h1v1h-1zM130 530h1v1h-1zM131 533h1v1h-1zM131 529h1v1h-1zM132 534h1v1h-1zM132 528h1v1h-1z" fill="#ffa500"/>
<path d="M167 528h1v1h-1zM167 534h1v1h-1zM168 529h1v1h-1zM168 533h1v1h-1zM169 530h1v1h-1zM169 532h1v1h-1zM170 531h1v1h-1zM171 532h1v1h-1zM171 530h1v1h-1zM172 533h1v1h-1zM172 529h1v1h-1zM173 534h1v1h-1zM173 528h1v1h-1z" fill="#ffa500"/>
<path d="M209 528h1v1h-1zM209 534h1v1h-1zM210 529h1v1h-1zM210 533h1v1h-1zM211 530h1v1h-1zM211 532h1v1h-1zM212 531h1v1h-1zM213 532h1v1h-1zM213 530h1v1h-1zM214 533h1v1h-1zM214 529h1v1h-1zM215 534h1v1h-1zM215 528h1v1h-1z" fill="#ffa500"/>
<path d="M250 469h1v1h-1zM250 475h1v1h-1zM251 470h1v1h-1zM251 474h1v1h-1zM252 471h1v1h-1zM252 473h1v1h-1zM253 472h1v1h-1zM254 473h1v1h-1zM254 471h1v1h-1zM255 474h1v1h-1zM255 470h1v1h-1zM256 475h1v1h-1zM256 469h1v1h-1z" fill="#ffa500"/>
<path d="M292 439h1v1h-1zM292 445h1v1h-1zM293 440h1v1h-1zM293 444h1v1h-1zM294 441h1v1h-1zM294 443h1v1h-1zM295 442h1v1h-1zM296 443h1v1h-1zM296 441h1v1h-1zM297 444h1v1h-1zM297 440h1v1h-1zM298 445h1v1h-1zM298 439h1v1h-1z" fill="#ffa500"/>
<path d="M333 431h1v1h-1zM333 437h1v1h-1zM334 432h1v1h-1zM334 436h1v1h-1zM335 433h1v1h-1zM335 435h1v1h-1zM336 434h1v1h-1zM337 435h1v1h-1zM337 433h1v1h-1zM338 436h1v1h-1zM338 432h1v1h-1zM339 437h1v1h-1zM339 431h1v1h-1z" fill="#ffa500"/>
<path d="M374 448h1v1h-1zM374 454h1v1h-1zM375 449h1v1h-1zM375 453h1v1h-1zM376 450h1v1h-1zM376 452h1v1h-1zM377 451h1v1h-1zM378 452h1v1h-1zM378 450h1v1h-1zM379 453h1v1h-1zM379 449h1v1h-1zM380 454h1v1h-1zM380 448h1v1h-1z" fill="#ffa500"/>
<path d="M416 431h1v1h-1zM416 437h1v1h-1zM417 432h1v1h-1zM417 436h1v1h-1zM418 433h1v1h-1zM418 435h1v1h-1zM419 434h1v1h-1zM420 435h1v1h-1zM420 433h1v1h-1zM421 436h1v1h-1zM421 432h1v1h-1zM422 437h1v1h-1zM422 431h1v1h-1z" fill="#ffa500"/>
<path d="M457 414h1v1h-1zM457 420h1v1h-1zM458 415h1v1h-1zM458 419h1v1h-1zM459 416h1v1h-1zM459 418h1v1h-1zM460 417h1v1h-1zM461 418h1v1h-1zM461 416h1v1h-1zM462 419h1v1h-1zM462 415h1v1h-1zM463 420h1v1h-1zM463 414h1v1h-1z" fill="#ffa500"/>
<path d="M499 394h1v1h-1zM499 400h1v1h-1zM500 395h1v1h-1zM500 399h1v1h-1zM501 396h1v1h-1zM501 398h1v1h-1zM502 397h1v1h-1zM503 398h1v1h-1zM503 396h1v1h-1zM504 399h1v1h-1zM504 395h1v1h-1zM505 400h1v1h-1zM505 394h1v1h-1z" fill="#ffa500"/>
<path d="M540 380h1v1h-1zM540 386h1v1h-1zM541 381h1v1h-1zM541 385h1v1h-1zM542 382h1v1h-1zM542 384h1v1h-1zM543 383h1v1h-1zM544 384h1v1h-1zM544 382h1v1h-1zM545 385h1v1h-1zM545 381h1v1h-1zM546 386h1v1h-1zM546 380h1v1h-1z" fill="#ffa500"/>
<path d="M582 335h1v1h-1zM582 341h1v1h-1zM583 336h1v1h-1zM583 340h1v1h-1zM584 337h1v1h-1zM584 339h1v1h-1zM585 338h1v1h-1zM586 339h1v1h-1zM586 337h1v1h-1zM587 340h1v1h-1zM587 336h1v1h-1zM588 341h1v1h-1zM588 335h1v1h-1z" fill="#ffa500"/>
<path d="M623 327h1v1h-1zM623 333h1v1h-1zM624 328h1v1h-1zM624 332h1v1h-1zM625 329h1v1h-1zM625 331h1v1h-1zM626 330h1v1h-1zM627 331h1v1h-1zM627 329h1v1h-1zM628 332h1v1h-1zM628 328h1v1h-1zM629 333h1v1h-1zM629 327h1v1h-1z" fill="#ffa500"/>
<path d="M665 295h1v1h-1zM665 301h1v1h-1zM666 296h1v1h-1zM666 300h1v1h-1zM667 297h1v1h-1zM667 299h1v1h-1zM668 298h1v1h-1zM669 299h1v1h-1zM669 297h1v1h-1zM670 300h1v1h-1zM670 296h1v1h-1zM671 301h1v1h-1zM671 295h1v1h-1z" fill="#ffa500"/>
<path d="M706 271h1v1h-1zM706 277h1v1h-1zM707 272h1v1h-1zM707 276h1v1h-1zM708 273h1v1h-1zM708 275h1v1h-1zM709 274h1v1h-1zM710 275h1v1h-1zM710 273h1v1h-1zM711 276h1v1h-1zM711 272h1v1h-1zM712 277h1v1h-1zM712 271h1v1h-1z" fill="#ffa500"/>
<path d="M747 244h1v1h-1zM747 250h1v1h-1zM748 245h1v1h-1zM748 249h1v1h-1zM749 246h1v1h-1zM749 248h1v1h-1zM750 247h1v1h-1zM751 248h1v1h-1zM751 246h1v1h-1zM752 249h1v1h-1zM752 245h1v1h-1zM753 250h1v1h-1zM753 244h1v1h-1z" fill="#ffa500"/>
<path d="M789 238h1v1h-1zM789 244h1v1h-1zM790 239h1v1h-1zM790 243h1v1h-1zM791 240h1v1h-1zM791 242h1v1h-1zM792 241h1v1h-1zM793 242h1v1h-1zM793 240h1v1h-1zM794 243h1v1h-1zM794 239h1v1h-1zM795 244h1v1h-1zM795 238h1v1h-1z" fill="#ffa500"/>
<path d="M830 235h1v1h-1zM830 241h1v1h-1zM831 236h1v1h-1zM831 240h1v1h-1zM832 237h1v1h-1zM832 239h1v1h-1zM833 238h1v1h-1zM834 239h1v1h-1zM834 237h1v1h-1zM835 240h1v1h-1zM835 236h1v1h-1zM836 241h1v1h-1zM836 235h1v1h-1z" fill="#ffa500"/>
<path d="M872 212h1v1h-1zM872 218h1v1h-1zM873 213h1v1h-1zM873 217h1v1h-1zM874 214h1v1h-1zM874 216h1v1h-1zM875 215h1v1h-1zM876 216h1v1h-1zM876 214h1v1h-1zM877 217h1v1h-1zM877 213h1v1h-1zM878 218h1v1h-1zM878 212h1v1h-1z" fill="#ffa500"/>
<path d="M913 179h1v1h-1zM913 185h1v1h-1zM914 180h1v1h-1zM914 184h1v1h-1zM915 181h1v1h-1zM915 183h1v1h-1zM916 182h1v1h-1zM917 183h1v1h-1zM917 181h1v1h-1zM918 184h1v1h-1zM918 180h1v1h-1zM919 185h1v1h-1zM919 179h1v1h-1z" fill="#ffa500"/>
<path d="M955 87h1v1h-1zM955 93h1v1h-1zM956 88h1v1h-1zM956 92h1v1h-1zM957 89h1v1h-1zM957 91h1v1h-1zM958 90h1v1h-1zM959 91h1v1h-1zM959 89h1v1h-1zM960 92h1v1h-1zM960 88h1v1h-1zM961 93h1v1h-1zM961 87h1v1h-1z" fill="#ffa500"/>
<polyline fill="none" stroke="#ff0000" stroke-width="1" points="253.5,468.5 295.5,462.5 336.5,457.5 377.5,451.5 419.5,434.5 460.5,417.5 502.5,397.5 543.5,383.5 585.5,361.5 626.5,324.5 668.5,306.5 709.5,281.5 750.5,256.5 792.5,245.5 833.5,245.5 875.5,221.5 916.5,222.5 958.5,112.5"/>
<rect x="250.5" y="465.5" width="6" height="6" fill="none" stroke="#ff0000" stroke-width="1"/>
<rect x="292.5" y="459.5" width="6" height="6" fill="none" stroke="#ff0000" stroke-width="1"/>
<rect x="333.5" y="454.5" width="6" height="6" fill="none" stroke="#ff0000" stroke-width="1"/>
<rect x="374.5" y="448.5" width="6" height="6" fill="none" stroke="#ff0000" stroke-width="1"/>
<rect x="416.5" y="431.5" width="6" height="6" fill="none" stroke="#ff0000" stroke-width="1"/>
<rect x="457.5" y="414.5" width="6" height="6" fill="none" stroke="#ff0000" stroke-width="1"/>
<rect x="499.5" y="394.5" width="6" height="6" fill="none" stroke="#ff0000" stroke-width="1"/>
<rect x="540.5" y="380.5" width="6" height="6" fill="none" stroke="#ff0000" stroke-width="1"/>
<rect x="582.5" y="358.5" width="6" height="6" fill="none" stroke="#ff0000" stroke-width="1"/>
<rect x="623.5" y="321.5" width="6" height="6" fill="none" stroke="#ff0000" stroke-width="1"/>
<rect x="665.5" y="303.5" width="6" height="6" fill="none" stroke="#ff0000" stroke-width="1"/>
<rect x="706.5" y="278.5" width="6" height="6" fill="none" stroke="#ff0000" stroke-width="1"/>
<rect x="747.5" y="253.5" width="6" height="6" fill="none" stroke="#ff0000" stroke-width="1"/>
<rect x="789.5" y="242.5" width="6" height="6" fill="none" stroke="#ff0000" stroke-width="1"/>
<rect x="830.5" y="242.5" width="6" height="6" fill="none" stroke="#ff0000" stroke-width="1"/>
<rect x="872.5" y="218.5" width="6" height="6" fill="none" stroke="#ff0000" stroke-width="1"/>
<rect x="913.5" y="219.5" width="6" height="6" fill="none" stroke="#ff0000" stroke-width="1"/>
<rect x="955.5" y="109.5" width="6" height="6" fill="none" stroke="#ff0000" stroke-width="1"/>
<polyline fill="none" stroke="#00ff00" stroke-width="1" points="253.5,479.5 295.5,449.5 336.5,441.5 377.5,432.5 419.5,415.5 460.5,400.5 502.5,381.5 543.5,368.5 585.5,346.5 626.5,324.5 668.5,306.5 709.5,282.5 750.5,259.5 792.5,243.5 833.5,233.5 875.5,208.5 916.5,206.5 958.5,96.5"/>
<rect x="250.5" y="476.5" width="6" height="6" fill="none" stroke="#00ff00" stroke-width="1"/>
<rect x="292.5" y="446.5" width="6" height="6" fill="none" stroke="#00ff00" stroke-width="1"/>
<rect x="333.5" y="438.5" width="6" height="6" fill="none" stroke="#00ff00" stroke-width="1"/>
<rect x="374.5" y="429.5" width="6" height="6" fill="none" stroke="#00ff00" stroke-width="1"/>
<rect x="416.5" y="412.5" width="6" height="6" fill="none" stroke="#00ff00" stroke-width="1"/>
<rect x="457.5" y="397.5" width="6" height="6" fill="none" stroke="#00ff00" stroke-width="1"/>
<rect x="499.5" y="378.5" width="6" height="6" fill="none" stroke="#00ff00" stroke-width="1"/>
<rect x="540.5" y="365.5" width="6" height="6" fill="none" stroke="#00ff00" stroke-width="1"/>
<rect x="582.5" y="343.5" width="6" height="6" fill="none" stroke="#00ff00" stroke-width="1"/>
<rect x="623.5" y="321.5" width="6" height="6" fill="none" stroke="#00ff00" stroke-width="1"/>
<rect x="665.5" y="303.5" width="6" height="6" fill="none" stroke="#00ff00" stroke-width="1"/>
<rect x="706.5" y="279.5" width="6" height="6" fill="none" stroke="#00ff00" stroke-width="1"/>
<rect x="747.5" y="256.5" width="6" height="6" fill="none" stroke="#00ff00" stroke-width="1"/>
<rect x="789.5" y="240.5" width="6" height="6" fill="none" stroke="#00ff00" stroke-width="1"/>
<rect x="830.5" y="230.5" width="6" height="6" fill="none" stroke="#00ff00" stroke-width="1"/>
<rect x="872.5" y="205.5" width="6" height="6" fill="none" stroke="#00ff00" stroke-width="1"/>
<rect x="913.5" y="203.5" width="6" height="6" fill="none" stroke="#00ff00" stroke-width="1"/>
<rect x="955.5" y="93.5" width="6" height="6" fill="none" stroke="#00ff00" stroke-width="1"/>
<polyline fill="none" stroke="#0000ff" stroke-width="1" points="253.5,472.5 295.5,442.5 336.5,434.5 377.5,425.5 419.5,407.5 460.5,390.5 502.5,371.5 543.5,358.5 585.5,337.5 626.5,316.5 668.5,298.5 709.5,273.5 750.5,247.5 792.5,227.5 833.5,227.5 875.5,175.5 916.5,168.5 958.5,90.5"/>
<rect x="250.5" y="469.5" width="6" height="6" fill="none" stroke="#0000ff" stroke-width="1"/>
<rect x="292.5" y="439.5" width="6" height="6" fill="none" stroke="#0000ff" stroke-width="1"/>
<rect x="333.5" y="431.5" width="6" height="6" fill="none" stroke="#0000ff" stroke-width="1"/>
<rect x="374.5" y="422.5" width="6" height="6" fill="none" stroke="#0000ff" stroke-width="1"/>
<rect x="416.5" y="404.5" width="6" height="6" fill="none" stroke="#0000ff" stroke-width="1"/>
<rect x="457.5" y="387.5" width="6" height="6" fill="none" stroke="#0000ff" stroke-width="1"/>
<rect x="499.5" y="368.5" width="6" height="6" fill="none" stroke="#0000ff" stroke-width="1"/>
<rect x="540.5" y="355.5" width="6" height="6" fill="none" stroke="#0000ff" stroke-width="1"/>
<rect x="582.5" y="334.5" width="6" height="6" fill="none" stroke="#0000ff" stroke-width="1"/>
<rect x="623.5" y="313.5" width="6" height="6" fill="none" stroke="#0000ff" stroke-width="1"/>
<rect x="665.5" y="295.5" width="6" height="6" fill="none" stroke="#0000ff" stroke-width="1"/>
<rect x="706.5" y="270.5" width="6" height="6" fill="none" stroke="#0000ff" stroke-width="1"/>
<rect x="747.5" y="244.5" width="6" height="6" fill="none" stroke="#0000ff" stroke-width="1"/>
<rect x="789.5" y="224.5" width="6" height="6" fill="none" stroke="#0000ff" stroke-width="1"/>
<rect x="830.5" y="224.5" width="6" height="6" fill="none" stroke="#0000ff" stroke-width="1"/>
<rect x="872.5" y="172.5" width="6" height="6" fill="none" stroke="#0000ff" stroke-width="1"/>
<rect x="913.5" y="165.5" width="6" height="6" fill="none" stroke="#0000ff" stroke-width="1"/>
<rect x="955.5" y="87.5" width="6" height="6" fill="none" stroke="#0000ff" stroke-width="1"/>
</g>
<g shape-rendering="crispEdges">
<rect x="35" y="562" width="13" height="2" fill="#ff0000"/>
<path d="M39 561h5v5h-5zM41 560h1v1h-1zM41 566h1v1h-1zM38 563h1v1h-1zM44 563h1v1h-1z" fill="#ff0000"/>
<text x="50" y="566" font-weight="bold" font-size="9" textLength="21" lengthAdjust="spacingAndGlyphs" style="font-family:'Liberation Mono'">Bund</text>
<rect x="169" y="562" width="13" height="2" fill="#00ff00"/>
<path d="M173 561h5v5h-5zM175 560h1v1h-1zM175 566h1v1h-1zM172 563h1v1h-1zM178 563h1v1h-1z" fill="#00ff00"/>
<text x="184" y="566" font-weight="bold" font-size="9" textLength="86" lengthAdjust="spacingAndGlyphs" style="font-family:'Liberation Mono'">Baden-Württemberg</text>
<rect x="303" y="562" width="13" height="2" fill="#0000ff"/>
<path d="M307 561h5v5h-5zM309 560h1v1h-1zM309 566h1v1h-1zM306 563h1v1h-1zM312 563h1v1h-1z" fill="#0000ff"/>
<text x="318" y="566" font-weight="bold" font-size="9" textLength="31" lengthAdjust="spacingAndGlyphs" style="font-family:'Liberation Mono'">Bayern</text>
<rect x="437" y="562" width="13" height="2" fill="#808000"/>
<path d="M441 561h5v5h-5zM443 560h1v1h-1zM443 566h1v1h-1zM440 563h1v1h-1zM446 563h1v1h-1z" fill="#808000"/>
<text x="452" y="566" font-weight="bold" font-size="9" textLength="31" lengthAdjust="spacingAndGlyphs" style="font-family:'Liberation Mono'">Berlin</text>
<rect x="571" y="562" width="13" height="2" fill="#ff00ff"/>
<path d="M575 561h5v5h-5zM577 560h1v1h-1zM577 566h1v1h-1zM574 563h1v1h-1zM580 563h1v1h-1z" fill="#ff00ff"/>
<text x="586" y="566" font-weight="bold" font-size="9" textLength="56" lengthAdjust="spacingAndGlyphs" style="font-family:'Liberation Mono'">Brandenburg</text>
<rect x="705" y="562" width="13" height="2" fill="#00ffff"/>
<path d="M709 561h5v5h-5zM711 560h1v1h-1zM711 566h1v1h-1zM708 563h1v1h-1zM714 563h1v1h-1z" fill="#00ffff"/>
<text x="720" y="566" font-weight="bold" font-size="9" textLength="31" lengthAdjust="spacingAndGlyphs" style="font-family:'Liberation Mono'">Bremen</text>
<rect x="839" y="562" width="13" height="2" fill="#ffa500"/>
<path d="M843 561h5v5h-5zM845 560h1v1h-1zM845 566h1v1h-1zM842 563h1v1h-1zM848 563h1v1h-1z" fill="#ffa500"/>
<text x="854" y="566" font-weight="bold" font-size="9" textLength="36" lengthAdjust="spacingAndGlyphs" style="font-family:'Liberation Mono'">Hamburg</text>
<rect x="35" y="578" width="13" height="2" fill="#ff0000"/>
<path d="M38 576h1v1h-1zM38 582h1v1h-1zM39 577h1v1h-1zM39 581h1v1h-1zM40 578h1v1h-1zM40 580h1v1h-1zM41 579h1v1h-1zM42 580h1v1h-1zM42 578h1v1h-1zM43 581h1v1h-1zM43 577h1v1h-1zM44 582h1v1h-1zM44 576h1v1h-1z" fill="#ff0000"/>
<text x="50" y="582" font-weight="bold" font-size="9" textLength="31" lengthAdjust="spacingAndGlyphs" style="font-family:'Liberation Mono'">Hessen</text>
<rect x="169" y="578" width="13" height="2" fill="#00ff00"/>
<path d="M172 576h1v1h-1zM172 582h1v1h-1zM173 577h1v1h-1zM173 581h1v1h-1zM174 578h1v1h-1zM174 580h1v1h-1zM175 579h1v1h-1zM176 580h1v1h-1zM176 578h1v1h-1zM177 581h1v1h-1zM177 577h1v1h-1zM178 582h1v1h-1zM178 576h1v1h-1z" fill="#00ff00"/>
<text x="184" y="582" font-weight="bold" font-size="9" textLength="111" lengthAdjust="spacingAndGlyphs" style="font-family:'Liberation Mono'">Mecklenburg-Vorpommern</text>
<rect x="303" y="578" width="13" height="2" fill="#0000ff"/>
<path d="M306 576h1v1h-1zM306 582h1v1h-1zM307 577h1v1h-1zM307 581h1v1h-1zM308 578h1v1h-1zM308 580h1v1h-1zM309 579h1v1h-1zM310 580h1v1h-1zM310 578h1v1h-1zM311 581h1v1h-1zM311 577h1v1h-1zM312 582h1v1h-1zM312 576h1v1h-1z" fill="#0000ff"/>
<text x="318" y="582" font-weight="bold" font-size="9" textLength="66" lengthAdjust="spacingAndGlyphs" style="font-family:'Liberation Mono'">Niedersachsen</text>
<rect x="437" y="578" width="13" height="2" fill="#808000"/>
<path d="M440 576h1v1h-1zM440 582h1v1h-1zM441 577h1v1h-1zM441 581h1v1h-1zM442 578h1v1h-1zM442 580h1v1h-1zM443 579h1v1h-1zM444 580h1v1h-1zM444 578h1v1h-1zM445 581h1v1h-1zM445 577h1v1h-1zM446 582h1v1h-1zM446 576h1v1h-1z" fill="#808000"/>
<text x="452" y="582" font-weight="bold" font-size="9" textLength="96" lengthAdjust="spacingAndGlyphs" style="font-family:'Liberation Mono'">Nordrhein-Westfalen</text>
<rect x="571" y="578" width="13" height="2" fill="#ff00ff"/>
<path d="M574 576h1v1h-1zM574 582h1v1h-1zM575 577h1v1h-1zM575 581h1v1h-1zM576 578h1v1h-1zM576 580h1v1h-1zM577 579h1v1h-1zM578 580h1v1h-1zM578 578h1v1h-1zM579 581h1v1h-1zM579 577h1v1h-1zM580 582h1v1h-1zM580 576h1v1h-1z" fill="#ff00ff"/>
<text x="586" y="582" font-weight="bold" font-size="9" textLength="76" lengthAdjust="spacingAndGlyphs" style="font-family:'Liberation Mono'">Rheinland-Pfalz</text>
<rect x="705" y="578" width="13" height="2" fill="#00ffff"/>
<path d="M708 576h1v1h-1zM708 582h1v1h-1zM709 577h1v1h-1zM709 581h1v1h-1zM710 578h1v1h-1zM710 580h1v1h-1zM711 579h1v1h-1zM712 580h1v1h-1zM712 578h1v1h-1zM713 581h1v1h-1zM713 577h1v1h-1zM714 582h1v1h-1zM714 576h1v1h-1z" fill="#00ffff"/>
<text x="720" y="582" font-weight="bold" font-size="9" textLength="41" lengthAdjust="spacingAndGlyphs" style="font-family:'Liberation Mono'">Saarland</text>
<rect x="839" y="578" width="13" height="2" fill="#ffa500"/>
<path d="M842 576h1v1h-1zM842 582h1v1h-1zM843 577h1v1h-1zM843 581h1v1h-1zM844 578h1v1h-1zM844 580h1v1h-1zM845 579h1v1h-1zM846 580h1v1h-1zM846 578h1v1h-1zM847 581h1v1h-1zM847 577h1v1h-1zM848 582h1v1h-1zM848 576h1v1h-1z" fill="#ffa500"/>
<text x="854" y="582" font-weight="bold" font-size="9" textLength="36" lengthAdjust="spacingAndGlyphs" style="font-family:'Liberation Mono'">Sachsen</text>
<rect x="35" y="594" width="13" height="2" fill="#ff0000"/>
<rect x="38.5" y="592.5" width="6" height="6" fill="none" stroke="#ff0000" stroke-width="1"/>
<text x="50" y="598" font-weight="bold" font-size="9" textLength="71" lengthAdjust="spacingAndGlyphs" style="font-family:'Liberation Mono'">Sachsen-Anhalt</text>
<rect x="169" y="594" width="13" height="2" fill="#00ff00"/>
<rect x="172.5" y="592.5" width="6" height="6" fill="none" stroke="#00ff00" stroke-width="1"/>
<text x="184" y="598" font-weight="bold" font-size="9" textLength="91" lengthAdjust="spacingAndGlyphs" style="font-family:'Liberation Mono'">Schleswig-Holstein</text>
<rect x="303" y="594" width="13" height="2" fill="#0000ff"/>
<rect x="306.5" y="592.5" width="6" height="6" fill="none" stroke="#0000ff" stroke-width="1"/>
<text x="318" y="598" font-weight="bold" font-size="9" textLength="46" lengthAdjust="spacingAndGlyphs" style="font-family:'Liberation Mono'">Thüringen</text>
</g>
</svg></body></html>
